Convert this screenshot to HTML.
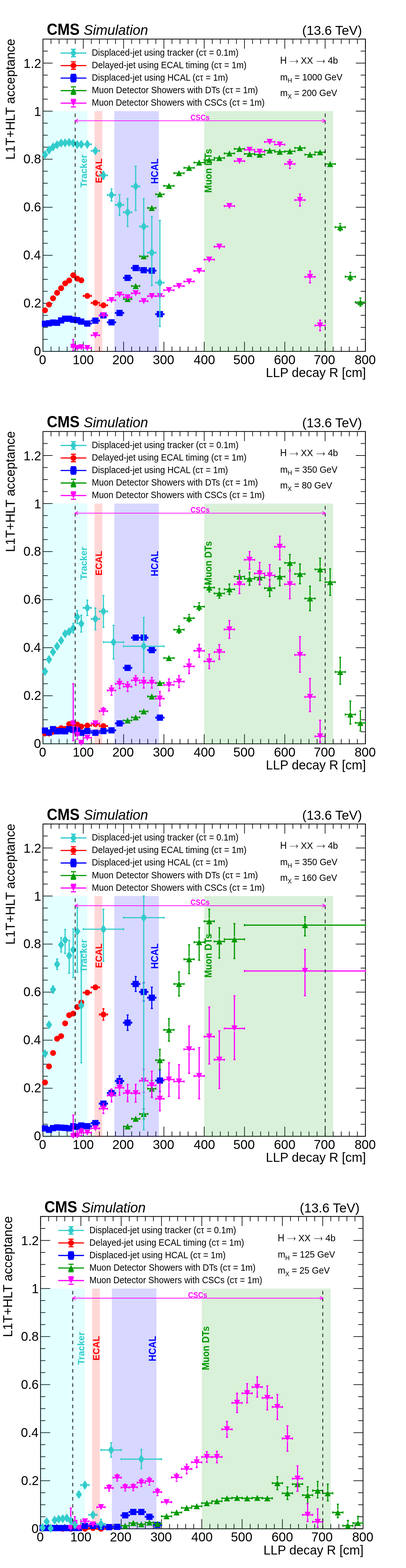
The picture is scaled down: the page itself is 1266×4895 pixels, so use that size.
<!DOCTYPE html>
<html><head><meta charset="utf-8"><title>L1T+HLT acceptance</title>
<style>html,body{margin:0;padding:0;background:#fff;}svg{display:block;}text{font-family:"Liberation Sans",Arial,Helvetica,sans-serif;}</style></head><body>
<svg width="1266" height="4895" viewBox="0 0 1266 4895">
<rect width="1266" height="4895" fill="#fff"/>
<g>
<path d="M134.0 1097.0V1067.0M134.0 122.0V152.0M159.1 1097.0V1082.0M159.1 122.0V137.0M184.3 1097.0V1082.0M184.3 122.0V137.0M209.4 1097.0V1082.0M209.4 122.0V137.0M234.6 1097.0V1082.0M234.6 122.0V137.0M259.7 1097.0V1067.0M259.7 122.0V152.0M284.8 1097.0V1082.0M284.8 122.0V137.0M310.0 1097.0V1082.0M310.0 122.0V137.0M335.1 1097.0V1082.0M335.1 122.0V137.0M360.2 1097.0V1082.0M360.2 122.0V137.0M385.4 1097.0V1067.0M385.4 122.0V152.0M410.5 1097.0V1082.0M410.5 122.0V137.0M435.6 1097.0V1082.0M435.6 122.0V137.0M460.8 1097.0V1082.0M460.8 122.0V137.0M485.9 1097.0V1082.0M485.9 122.0V137.0M511.1 1097.0V1067.0M511.1 122.0V152.0M536.2 1097.0V1082.0M536.2 122.0V137.0M561.3 1097.0V1082.0M561.3 122.0V137.0M586.5 1097.0V1082.0M586.5 122.0V137.0M611.6 1097.0V1082.0M611.6 122.0V137.0M636.8 1097.0V1067.0M636.8 122.0V152.0M661.9 1097.0V1082.0M661.9 122.0V137.0M687.0 1097.0V1082.0M687.0 122.0V137.0M712.2 1097.0V1082.0M712.2 122.0V137.0M737.3 1097.0V1082.0M737.3 122.0V137.0M762.4 1097.0V1067.0M762.4 122.0V152.0M787.6 1097.0V1082.0M787.6 122.0V137.0M812.7 1097.0V1082.0M812.7 122.0V137.0M837.9 1097.0V1082.0M837.9 122.0V137.0M863.0 1097.0V1082.0M863.0 122.0V137.0M888.1 1097.0V1067.0M888.1 122.0V152.0M913.3 1097.0V1082.0M913.3 122.0V137.0M938.4 1097.0V1082.0M938.4 122.0V137.0M963.5 1097.0V1082.0M963.5 122.0V137.0M988.7 1097.0V1082.0M988.7 122.0V137.0M1013.8 1097.0V1067.0M1013.8 122.0V152.0M1038.9 1097.0V1082.0M1038.9 122.0V137.0M1064.1 1097.0V1082.0M1064.1 122.0V137.0M1089.2 1097.0V1082.0M1089.2 122.0V137.0M1114.4 1097.0V1082.0M1114.4 122.0V137.0M1139.5 1097.0V1067.0M1139.5 122.0V152.0M134.0 1097.0H164.0M1139.5 1097.0H1109.5M134.0 1059.5H149.0M1139.5 1059.5H1124.5M134.0 1022.0H149.0M1139.5 1022.0H1124.5M134.0 984.5H149.0M1139.5 984.5H1124.5M134.0 947.0H164.0M1139.5 947.0H1109.5M134.0 909.5H149.0M1139.5 909.5H1124.5M134.0 872.0H149.0M1139.5 872.0H1124.5M134.0 834.5H149.0M1139.5 834.5H1124.5M134.0 797.0H164.0M1139.5 797.0H1109.5M134.0 759.5H149.0M1139.5 759.5H1124.5M134.0 722.0H149.0M1139.5 722.0H1124.5M134.0 684.5H149.0M1139.5 684.5H1124.5M134.0 647.0H164.0M1139.5 647.0H1109.5M134.0 609.5H149.0M1139.5 609.5H1124.5M134.0 572.0H149.0M1139.5 572.0H1124.5M134.0 534.5H149.0M1139.5 534.5H1124.5M134.0 497.0H164.0M1139.5 497.0H1109.5M134.0 459.5H149.0M1139.5 459.5H1124.5M134.0 422.0H149.0M1139.5 422.0H1124.5M134.0 384.5H149.0M1139.5 384.5H1124.5M134.0 347.0H164.0M1139.5 347.0H1109.5M134.0 309.5H149.0M1139.5 309.5H1124.5M134.0 272.0H149.0M1139.5 272.0H1124.5M134.0 234.5H149.0M1139.5 234.5H1124.5M134.0 197.0H164.0M1139.5 197.0H1109.5M134.0 159.5H149.0M1139.5 159.5H1124.5M134.0 122.0H149.0M1139.5 122.0H1124.5" stroke="#000" stroke-width="2" fill="none"/>
<rect x="134.0" y="122.0" width="1005.5" height="975.0" fill="none" stroke="#000" stroke-width="2.4"/>
<rect x="134.0" y="347.0" width="138.1" height="751.5" fill="#00ffff" fill-opacity="0.110"/>
<rect x="294.8" y="347.0" width="24.1" height="751.5" fill="#ff0000" fill-opacity="0.155"/>
<rect x="356.4" y="347.0" width="139.1" height="751.5" fill="#0000ff" fill-opacity="0.155"/>
<rect x="637.0" y="347.0" width="401.7" height="751.5" fill="#009900" fill-opacity="0.150"/>
<text transform="translate(270.61 585.19) rotate(-90) scale(0.2892 0.2946)" font-size="100" font-weight="bold" fill="#33cccc">Tracker</text>
<text transform="translate(317.81 571.78) rotate(-90) scale(0.2828 0.2944)" font-size="100" font-weight="bold" fill="#ff0000">ECAL</text>
<text transform="translate(493.49 574.10) rotate(-90) scale(0.2858 0.3070)" font-size="100" font-weight="bold" fill="#0000ff">HCAL</text>
<text transform="translate(659.59 601.92) rotate(-90) scale(0.2890 0.3057)" font-size="100" font-weight="bold" fill="#009900">Muon DTs</text>
<path d="M134.0 968.8H135.8M144.8 968.8H146.6M146.6 950.8H148.4M157.4 950.8H159.1M159.1 931.2H160.9M169.9 931.2H171.7M171.7 914.0H173.5M182.5 914.0H184.3M184.3 899.8H186.1M195.1 899.8H196.8M196.8 884.8H198.6M207.6 884.8H209.4M209.4 875.8H211.2M220.2 875.8H222.0M222.0 859.2H223.8M232.8 859.2H234.6M234.6 869.8H236.3M245.3 869.8H247.1M247.1 875.0H248.9M257.9 875.0H259.7M259.7 923.8H267.8M276.8 923.8H284.8M284.8 945.5H292.9M301.9 945.5H310.0M310.0 953.0H318.0M327.0 953.0H335.1" stroke="#ff0000" stroke-width="3.6" fill="none"/>
<path d="M134.0 965.5V972.0M146.6 965.5V972.0M146.6 947.5V954.0M159.1 947.5V954.0M159.1 928.0V934.5M171.7 928.0V934.5M171.7 910.7V917.3M184.3 910.7V917.3M184.3 896.5V903.0M196.8 896.5V903.0M196.8 881.5V888.0M209.4 881.5V888.0M209.4 872.5V879.0M222.0 872.5V879.0M222.0 856.0V862.5M234.6 856.0V862.5M234.6 866.5V873.0M247.1 866.5V873.0M247.1 871.7V878.3M259.7 871.7V878.3M259.7 920.5V927.0M284.8 920.5V927.0M284.8 942.2V948.8M310.0 942.2V948.8M310.0 949.7V956.3M335.1 949.7V956.3" stroke="#ff0000" stroke-width="3.5" fill="none"/>
<circle cx="140.3" cy="968.8" r="9.2" fill="#ff0000"/><circle cx="152.9" cy="950.8" r="9.2" fill="#ff0000"/><circle cx="165.4" cy="931.2" r="9.2" fill="#ff0000"/><circle cx="178.0" cy="914.0" r="9.2" fill="#ff0000"/><circle cx="190.6" cy="899.8" r="9.2" fill="#ff0000"/><circle cx="203.1" cy="884.8" r="9.2" fill="#ff0000"/><circle cx="215.7" cy="875.8" r="9.2" fill="#ff0000"/><circle cx="228.3" cy="859.2" r="9.2" fill="#ff0000"/><circle cx="240.8" cy="869.8" r="9.2" fill="#ff0000"/><circle cx="253.4" cy="875.0" r="9.2" fill="#ff0000"/><circle cx="272.3" cy="923.8" r="9.2" fill="#ff0000"/><circle cx="297.4" cy="945.5" r="9.2" fill="#ff0000"/><circle cx="322.5" cy="953.0" r="9.2" fill="#ff0000"/>
<path d="M134.0 1010.8H135.8M144.8 1010.8H146.6M146.6 1009.2H148.4M157.4 1009.2H159.1M159.1 1007.0H160.9M169.9 1007.0H171.7M171.7 1007.8H173.5M182.5 1007.8H184.3M184.3 1000.2H186.1M195.1 1000.2H196.8M196.8 995.0H198.6M207.6 995.0H209.4M209.4 995.0H211.2M220.2 995.0H222.0M222.0 998.0H223.8M232.8 998.0H234.6M234.6 999.5H236.3M245.3 999.5H247.1M247.1 1004.0H248.9M257.9 1004.0H259.7M259.7 1010.0H267.8M276.8 1010.0H284.8M284.8 1001.0H292.9M301.9 1001.0H310.0M310.0 984.5H318.0M327.0 984.5H335.1M335.1 1006.2H343.2M352.2 1006.2H360.2M360.2 977.0H368.3M377.3 977.0H385.4M385.4 867.5H393.4M402.4 867.5H410.5M410.5 836.8H418.6M427.6 836.8H435.6M435.6 843.5H443.7M452.7 843.5H460.8M460.8 845.0H468.9M477.9 845.0H485.9M485.9 980.8H494.0M503.0 980.8H511.1" stroke="#0000ff" stroke-width="3.6" fill="none"/>
<path d="M134.0 1007.5V1014.0M146.6 1007.5V1014.0M146.6 1006.0V1012.5M159.1 1006.0V1012.5M159.1 1003.7V1010.3M171.7 1003.7V1010.3M171.7 1004.5V1011.0M184.3 1004.5V1011.0M184.3 997.0V1003.5M196.8 997.0V1003.5M196.8 991.7V998.3M209.4 991.7V998.3M209.4 991.7V998.3M222.0 991.7V998.3M222.0 994.7V1001.3M234.6 994.7V1001.3M234.6 996.2V1002.8M247.1 996.2V1002.8M247.1 1000.7V1007.3M259.7 1000.7V1007.3M259.7 1006.7V1013.3M284.8 1006.7V1013.3M284.8 997.7V1004.3M310.0 997.7V1004.3M310.0 981.2V987.8M335.1 981.2V987.8M335.1 1003.0V1009.5M360.2 1003.0V1009.5M360.2 973.7V980.3M385.4 973.7V980.3M385.4 864.2V870.8M410.5 864.2V870.8M410.5 833.5V840.0M435.6 833.5V840.0M435.6 840.2V846.8M460.8 840.2V846.8M460.8 841.7V848.3M485.9 841.7V848.3M485.9 977.5V984.0M511.1 977.5V984.0" stroke="#0000ff" stroke-width="3.5" fill="none"/>
<rect x="130.6" y="1001.0" width="19.4" height="19.4" fill="#0000ff"/><rect x="143.2" y="999.5" width="19.4" height="19.4" fill="#0000ff"/><rect x="155.7" y="997.3" width="19.4" height="19.4" fill="#0000ff"/><rect x="168.3" y="998.0" width="19.4" height="19.4" fill="#0000ff"/><rect x="180.9" y="990.5" width="19.4" height="19.4" fill="#0000ff"/><rect x="193.4" y="985.3" width="19.4" height="19.4" fill="#0000ff"/><rect x="206.0" y="985.3" width="19.4" height="19.4" fill="#0000ff"/><rect x="218.6" y="988.3" width="19.4" height="19.4" fill="#0000ff"/><rect x="231.1" y="989.8" width="19.4" height="19.4" fill="#0000ff"/><rect x="243.7" y="994.3" width="19.4" height="19.4" fill="#0000ff"/><rect x="262.6" y="1000.3" width="19.4" height="19.4" fill="#0000ff"/><rect x="287.7" y="991.3" width="19.4" height="19.4" fill="#0000ff"/><rect x="312.8" y="974.8" width="19.4" height="19.4" fill="#0000ff"/><rect x="338.0" y="996.5" width="19.4" height="19.4" fill="#0000ff"/><rect x="363.1" y="967.3" width="19.4" height="19.4" fill="#0000ff"/><rect x="388.2" y="857.8" width="19.4" height="19.4" fill="#0000ff"/><rect x="413.4" y="827.0" width="19.4" height="19.4" fill="#0000ff"/><rect x="438.5" y="833.8" width="19.4" height="19.4" fill="#0000ff"/><rect x="463.7" y="835.3" width="19.4" height="19.4" fill="#0000ff"/><rect x="488.8" y="971.0" width="19.4" height="19.4" fill="#0000ff"/>
<path d="M385.4 933.5H393.4M402.4 933.5H410.5M410.5 893.0H418.6M427.6 893.0H435.6M435.6 800.0H443.7M452.7 800.0H460.8M460.8 649.2H468.9M477.9 649.2H485.9M485.9 606.5H494.0M503.0 606.5H511.1M511.1 580.2H522.3M531.3 580.2H542.5M542.5 540.5H553.7M562.7 540.5H573.9M573.9 524.0H585.1M594.1 524.0H605.3M605.3 507.5H616.5M625.5 507.5H636.8M636.8 499.2H648.0M657.0 499.2H668.2M668.2 493.2H679.4M688.4 493.2H699.6M699.6 479.0H710.8M719.8 479.0H731.0M731.0 464.8H742.2M751.2 464.8H762.4M762.4 480.5H773.6M782.6 480.5H793.9M793.9 482.8H805.1M814.1 482.8H825.3M825.3 470.0H836.5M845.5 470.0H856.7M856.7 473.8H867.9M876.9 473.8H888.1M888.1 472.2H899.3M908.3 472.2H919.5M919.5 461.8H930.8M939.8 461.8H951.0M951.0 482.8H962.2M971.2 482.8H982.4M982.4 475.2H993.6M1002.6 475.2H1013.8M1013.8 512.0H1025.0M1034.0 512.0H1045.2M1045.2 709.2H1056.4M1065.4 709.2H1076.7M1060.9 698.0V700.0M1060.9 718.5V720.5M1076.7 863.8H1087.9M1096.9 863.8H1108.1M1092.4 850.2V854.5M1092.4 873.0V875.8M1108.1 943.2H1119.3M1128.3 943.2H1139.5M1123.8 930.5V934.0M1123.8 952.5V956.0" stroke="#009900" stroke-width="3.6" fill="none"/>
<path d="M385.4 930.2V936.8M410.5 930.2V936.8M410.5 889.7V896.3M435.6 889.7V896.3M435.6 796.7V803.3M460.8 796.7V803.3M460.8 646.0V652.5M485.9 646.0V652.5M485.9 603.2V609.8M511.1 603.2V609.8M511.1 577.0V583.5M542.5 577.0V583.5M542.5 537.2V543.8M573.9 537.2V543.8M573.9 520.7V527.3M605.3 520.7V527.3M605.3 504.2V510.8M636.8 504.2V510.8M636.8 495.9V502.6M668.2 495.9V502.6M668.2 489.9V496.6M699.6 489.9V496.6M699.6 475.7V482.3M731.0 475.7V482.3M731.0 461.4V468.1M762.4 461.4V468.1M762.4 477.2V483.8M793.9 477.2V483.8M793.9 479.4V486.1M825.3 479.4V486.1M825.3 466.7V473.3M856.7 466.7V473.3M856.7 470.4V477.1M888.1 470.4V477.1M888.1 468.9V475.6M919.5 468.9V475.6M919.5 458.4V465.1M951.0 458.4V465.1M951.0 479.4V486.1M982.4 479.4V486.1M982.4 471.9V478.6M1013.8 471.9V478.6M1013.8 508.7V515.3M1045.2 508.7V515.3M1045.2 706.0V712.5M1076.7 706.0V712.5M1057.6 698.0H1064.2M1057.6 720.5H1064.2M1076.7 860.5V867.0M1108.1 860.5V867.0M1089.1 850.2H1095.7M1089.1 875.8H1095.7M1108.1 940.0V946.5M1139.5 940.0V946.5M1120.5 930.5H1127.1M1120.5 956.0H1127.1" stroke="#009900" stroke-width="3.5" fill="none"/>
<polygon points="388.4,943.0 407.4,943.0 397.9,924.0" fill="#009900"/><polygon points="413.6,902.5 432.6,902.5 423.1,883.5" fill="#009900"/><polygon points="438.7,809.5 457.7,809.5 448.2,790.5" fill="#009900"/><polygon points="463.9,658.8 482.9,658.8 473.4,639.8" fill="#009900"/><polygon points="489.0,616.0 508.0,616.0 498.5,597.0" fill="#009900"/><polygon points="517.3,589.8 536.3,589.8 526.8,570.8" fill="#009900"/><polygon points="548.7,550.0 567.7,550.0 558.2,531.0" fill="#009900"/><polygon points="580.1,533.5 599.1,533.5 589.6,514.5" fill="#009900"/><polygon points="611.5,517.0 630.5,517.0 621.0,498.0" fill="#009900"/><polygon points="643.0,508.8 662.0,508.8 652.5,489.8" fill="#009900"/><polygon points="674.4,502.8 693.4,502.8 683.9,483.8" fill="#009900"/><polygon points="705.8,488.5 724.8,488.5 715.3,469.5" fill="#009900"/><polygon points="737.2,474.2 756.2,474.2 746.7,455.2" fill="#009900"/><polygon points="768.6,490.0 787.6,490.0 778.1,471.0" fill="#009900"/><polygon points="800.1,492.2 819.1,492.2 809.6,473.2" fill="#009900"/><polygon points="831.5,479.5 850.5,479.5 841.0,460.5" fill="#009900"/><polygon points="862.9,483.2 881.9,483.2 872.4,464.2" fill="#009900"/><polygon points="894.3,481.8 913.3,481.8 903.8,462.8" fill="#009900"/><polygon points="925.8,471.2 944.8,471.2 935.3,452.2" fill="#009900"/><polygon points="957.2,492.2 976.2,492.2 966.7,473.2" fill="#009900"/><polygon points="988.6,484.8 1007.6,484.8 998.1,465.8" fill="#009900"/><polygon points="1020.0,521.5 1039.0,521.5 1029.5,502.5" fill="#009900"/><polygon points="1051.4,718.8 1070.4,718.8 1060.9,699.8" fill="#009900"/><polygon points="1082.9,873.2 1101.9,873.2 1092.4,854.2" fill="#009900"/><polygon points="1114.3,952.8 1133.3,952.8 1123.8,933.8" fill="#009900"/>
<path d="M222.0 1082.8H223.8M232.8 1082.8H234.6M228.3 1059.5V1073.5M228.3 1092.0V1094.0M234.6 1086.5H236.3M245.3 1086.5H247.1M247.1 1084.2H248.9M257.9 1084.2H259.7M259.7 1086.5H267.8M276.8 1086.5H284.8M284.8 1046.8H292.9M301.9 1046.8H310.0M310.0 984.5H318.0M327.0 984.5H335.1M335.1 937.2H343.2M352.2 937.2H360.2M360.2 920.0H368.3M377.3 920.0H385.4M385.4 928.2H393.4M402.4 928.2H410.5M410.5 915.5H418.6M427.6 915.5H435.6M435.6 940.2H443.7M452.7 940.2H460.8M460.8 924.5H468.9M477.9 924.5H485.9M485.9 924.5H494.0M503.0 924.5H511.1M511.1 905.8H522.3M531.3 905.8H542.5M542.5 893.0H553.7M562.7 893.0H573.9M573.9 878.8H585.1M594.1 878.8H605.3M605.3 845.8H616.5M625.5 845.8H636.8M636.8 810.5H648.0M657.0 810.5H668.2M668.2 770.0H679.4M688.4 770.0H699.6M699.6 643.2H710.8M719.8 643.2H731.0M731.0 503.0H742.2M751.2 503.0H762.4M762.4 467.8H773.6M782.6 467.8H793.9M793.9 473.8H805.1M814.1 473.8H825.3M825.3 443.0H836.5M845.5 443.0H856.7M856.7 451.2H867.9M876.9 451.2H888.1M888.1 512.0H899.3M908.3 512.0H919.5M903.8 498.5V502.7M903.8 521.3V525.5M919.5 624.5H930.8M939.8 624.5H951.0M935.3 605.8V615.2M935.3 633.8V643.2M951.0 864.5H962.2M971.2 864.5H982.4M966.7 845.8V855.2M966.7 873.8V883.2M982.4 1016.0H993.6M1002.6 1016.0H1013.8M998.1 999.5V1006.7M998.1 1025.3V1032.5" stroke="#ff00ff" stroke-width="3.6" fill="none"/>
<path d="M222.0 1079.5V1086.0M234.6 1079.5V1086.0M225.0 1059.5H231.6M225.0 1094.0H231.6M234.6 1083.2V1089.8M247.1 1083.2V1089.8M247.1 1081.0V1087.5M259.7 1081.0V1087.5M259.7 1083.2V1089.8M284.8 1083.2V1089.8M284.8 1043.5V1050.0M310.0 1043.5V1050.0M310.0 981.2V987.8M335.1 981.2V987.8M335.1 934.0V940.5M360.2 934.0V940.5M360.2 916.7V923.3M385.4 916.7V923.3M385.4 925.0V931.5M410.5 925.0V931.5M410.5 912.2V918.8M435.6 912.2V918.8M435.6 937.0V943.5M460.8 937.0V943.5M460.8 921.2V927.8M485.9 921.2V927.8M485.9 921.2V927.8M511.1 921.2V927.8M511.1 902.5V909.0M542.5 902.5V909.0M542.5 889.7V896.3M573.9 889.7V896.3M573.9 875.5V882.0M605.3 875.5V882.0M605.3 842.5V849.0M636.8 842.5V849.0M636.8 807.2V813.8M668.2 807.2V813.8M668.2 766.7V773.3M699.6 766.7V773.3M699.6 640.0V646.5M731.0 640.0V646.5M731.0 499.7V506.3M762.4 499.7V506.3M762.4 464.4V471.1M793.9 464.4V471.1M793.9 470.4V477.1M825.3 470.4V477.1M825.3 439.7V446.3M856.7 439.7V446.3M856.7 447.9V454.6M888.1 447.9V454.6M888.1 508.7V515.3M919.5 508.7V515.3M900.5 498.5H907.1M900.5 525.5H907.1M919.5 621.2V627.8M951.0 621.2V627.8M932.0 605.8H938.6M932.0 643.2H938.6M951.0 861.2V867.8M982.4 861.2V867.8M963.4 845.8H970.0M963.4 883.2H970.0M982.4 1012.7V1019.3M1013.8 1012.7V1019.3M994.8 999.5H1001.4M994.8 1032.5H1001.4" stroke="#ff00ff" stroke-width="3.5" fill="none"/>
<polygon points="218.8,1073.2 237.8,1073.2 228.3,1092.2" fill="#ff00ff"/><polygon points="231.3,1077.0 250.3,1077.0 240.8,1096.0" fill="#ff00ff"/><polygon points="243.9,1074.8 262.9,1074.8 253.4,1093.8" fill="#ff00ff"/><polygon points="262.8,1077.0 281.8,1077.0 272.3,1096.0" fill="#ff00ff"/><polygon points="287.9,1037.2 306.9,1037.2 297.4,1056.2" fill="#ff00ff"/><polygon points="313.0,975.0 332.0,975.0 322.5,994.0" fill="#ff00ff"/><polygon points="338.2,927.8 357.2,927.8 347.7,946.8" fill="#ff00ff"/><polygon points="363.3,910.5 382.3,910.5 372.8,929.5" fill="#ff00ff"/><polygon points="388.4,918.8 407.4,918.8 397.9,937.8" fill="#ff00ff"/><polygon points="413.6,906.0 432.6,906.0 423.1,925.0" fill="#ff00ff"/><polygon points="438.7,930.8 457.7,930.8 448.2,949.8" fill="#ff00ff"/><polygon points="463.9,915.0 482.9,915.0 473.4,934.0" fill="#ff00ff"/><polygon points="489.0,915.0 508.0,915.0 498.5,934.0" fill="#ff00ff"/><polygon points="517.3,896.2 536.3,896.2 526.8,915.2" fill="#ff00ff"/><polygon points="548.7,883.5 567.7,883.5 558.2,902.5" fill="#ff00ff"/><polygon points="580.1,869.2 599.1,869.2 589.6,888.2" fill="#ff00ff"/><polygon points="611.5,836.2 630.5,836.2 621.0,855.2" fill="#ff00ff"/><polygon points="643.0,801.0 662.0,801.0 652.5,820.0" fill="#ff00ff"/><polygon points="674.4,760.5 693.4,760.5 683.9,779.5" fill="#ff00ff"/><polygon points="705.8,633.8 724.8,633.8 715.3,652.8" fill="#ff00ff"/><polygon points="737.2,493.5 756.2,493.5 746.7,512.5" fill="#ff00ff"/><polygon points="768.6,458.2 787.6,458.2 778.1,477.2" fill="#ff00ff"/><polygon points="800.1,464.2 819.1,464.2 809.6,483.2" fill="#ff00ff"/><polygon points="831.5,433.5 850.5,433.5 841.0,452.5" fill="#ff00ff"/><polygon points="862.9,441.8 881.9,441.8 872.4,460.8" fill="#ff00ff"/><polygon points="894.3,502.5 913.3,502.5 903.8,521.5" fill="#ff00ff"/><polygon points="925.8,615.0 944.8,615.0 935.3,634.0" fill="#ff00ff"/><polygon points="957.2,855.0 976.2,855.0 966.7,874.0" fill="#ff00ff"/><polygon points="988.6,1006.5 1007.6,1006.5 998.1,1025.5" fill="#ff00ff"/>
<path d="M134.0 482.8H135.8M144.8 482.8H146.6M146.6 468.5H148.4M157.4 468.5H159.1M159.1 458.8H160.9M169.9 458.8H171.7M171.7 452.0H173.5M182.5 452.0H184.3M184.3 446.8H186.1M195.1 446.8H196.8M196.8 446.0H198.6M207.6 446.0H209.4M209.4 444.5H211.2M220.2 444.5H222.0M222.0 446.8H223.8M232.8 446.8H234.6M234.6 451.2H236.3M245.3 451.2H247.1M247.1 450.5H248.9M257.9 450.5H259.7M259.7 450.5H267.8M276.8 450.5H284.8M284.8 470.8H292.9M301.9 470.8H310.0M310.0 547.2H318.0M327.0 547.2H335.1M322.5 535.2V538.0M322.5 556.5V559.2M335.1 608.8H343.2M352.2 608.8H360.2M347.7 590.0V599.5M347.7 618.0V627.5M360.2 639.5H368.3M377.3 639.5H385.4M372.8 607.2V630.2M372.8 648.8V672.5M385.4 662.8H393.4M402.4 662.8H410.5M397.9 620.0V653.5M397.9 672.0V707.0M410.5 581.8H418.6M427.6 581.8H435.6M423.1 518.8V572.5M423.1 591.0V656.8M435.6 707.0H443.7M452.7 707.0H460.8M448.2 620.0V697.7M448.2 716.3V798.5M460.8 788.8H468.9M477.9 788.8H485.9M473.4 676.2V779.5M473.4 798.0V891.5M485.9 882.5H494.0M503.0 882.5H511.1M498.5 688.2V873.2M498.5 891.8V1019.0" stroke="#33cccc" stroke-width="3.6" fill="none"/>
<path d="M134.0 479.4V486.1M146.6 479.4V486.1M146.6 465.2V471.8M159.1 465.2V471.8M159.1 455.4V462.1M171.7 455.4V462.1M171.7 448.7V455.3M184.3 448.7V455.3M184.3 443.4V450.1M196.8 443.4V450.1M196.8 442.7V449.3M209.4 442.7V449.3M209.4 441.2V447.8M222.0 441.2V447.8M222.0 443.4V450.1M234.6 443.4V450.1M234.6 447.9V454.6M247.1 447.9V454.6M247.1 447.2V453.8M259.7 447.2V453.8M259.7 447.2V453.8M284.8 447.2V453.8M284.8 467.4V474.1M310.0 467.4V474.1M310.0 544.0V550.5M335.1 544.0V550.5M319.2 535.2H325.8M319.2 559.2H325.8M335.1 605.5V612.0M360.2 605.5V612.0M344.4 590.0H351.0M344.4 627.5H351.0M360.2 636.2V642.8M385.4 636.2V642.8M369.5 607.2H376.1M369.5 672.5H376.1M385.4 659.5V666.0M410.5 659.5V666.0M394.6 620.0H401.2M394.6 707.0H401.2M410.5 578.5V585.0M435.6 578.5V585.0M419.8 518.8H426.4M419.8 656.8H426.4M435.6 703.7V710.3M460.8 703.7V710.3M444.9 620.0H451.5M444.9 798.5H451.5M460.8 785.5V792.0M485.9 785.5V792.0M470.1 676.2H476.7M470.1 891.5H476.7M485.9 879.2V885.8M511.1 879.2V885.8M495.2 688.2H501.8M495.2 1019.0H501.8" stroke="#33cccc" stroke-width="3.5" fill="none"/>
<polygon points="130.7,482.8 140.3,468.6 149.9,482.8 140.3,496.9" fill="#33cccc"/><polygon points="143.3,468.5 152.9,454.3 162.5,468.5 152.9,482.7" fill="#33cccc"/><polygon points="155.8,458.8 165.4,444.6 175.0,458.8 165.4,472.9" fill="#33cccc"/><polygon points="168.4,452.0 178.0,437.8 187.6,452.0 178.0,466.2" fill="#33cccc"/><polygon points="181.0,446.8 190.6,432.6 200.2,446.8 190.6,460.9" fill="#33cccc"/><polygon points="193.5,446.0 203.1,431.8 212.7,446.0 203.1,460.2" fill="#33cccc"/><polygon points="206.1,444.5 215.7,430.3 225.3,444.5 215.7,458.7" fill="#33cccc"/><polygon points="218.7,446.8 228.3,432.6 237.9,446.8 228.3,460.9" fill="#33cccc"/><polygon points="231.2,451.2 240.8,437.1 250.4,451.2 240.8,465.4" fill="#33cccc"/><polygon points="243.8,450.5 253.4,436.3 263.0,450.5 253.4,464.7" fill="#33cccc"/><polygon points="262.7,450.5 272.3,436.3 281.9,450.5 272.3,464.7" fill="#33cccc"/><polygon points="287.8,470.8 297.4,456.6 307.0,470.8 297.4,484.9" fill="#33cccc"/><polygon points="312.9,547.2 322.5,533.0 332.1,547.2 322.5,561.5" fill="#33cccc"/><polygon points="338.1,608.8 347.7,594.5 357.3,608.8 347.7,623.0" fill="#33cccc"/><polygon points="363.2,639.5 372.8,625.3 382.4,639.5 372.8,653.7" fill="#33cccc"/><polygon points="388.3,662.8 397.9,648.5 407.5,662.8 397.9,677.0" fill="#33cccc"/><polygon points="413.5,581.8 423.1,567.5 432.7,581.8 423.1,596.0" fill="#33cccc"/><polygon points="438.6,707.0 448.2,692.8 457.8,707.0 448.2,721.2" fill="#33cccc"/><polygon points="463.8,788.8 473.4,774.5 483.0,788.8 473.4,803.0" fill="#33cccc"/><polygon points="488.9,882.5 498.5,868.3 508.1,882.5 498.5,896.7" fill="#33cccc"/>
<line x1="234.4" y1="347.0" x2="234.4" y2="1097.0" stroke="#000" stroke-width="2.2" stroke-dasharray="11 11.18" stroke-dashoffset="-7.50"/>
<line x1="1014.0" y1="347.0" x2="1014.0" y2="1097.0" stroke="#000" stroke-width="2.2" stroke-dasharray="11 11.18" stroke-dashoffset="-7.50"/>
<g stroke="#ff00ff" stroke-width="2.2" fill="none">
<line x1="233.5" y1="377.0" x2="1015.0" y2="377.0"/>
<polyline points="243.5,371.7 233.5,377.0 243.5,382.3"/>
<polyline points="1005.0,371.7 1015.0,377.0 1005.0,382.3"/>
</g>
<text transform="translate(594.11 375.16) scale(0.2236 0.2394)" font-size="100" font-weight="bold" fill="#ff00ff">CSCs</text>
<text transform="translate(105.86 1110.09) scale(0.3969 0.4085)" font-size="100">0</text>
<text transform="translate(73.31 960.09) scale(0.3969 0.4085)" font-size="100">0.2</text>
<text transform="translate(72.52 810.09) scale(0.3969 0.4085)" font-size="100">0.4</text>
<text transform="translate(72.91 660.09) scale(0.3969 0.4085)" font-size="100">0.6</text>
<text transform="translate(72.91 510.09) scale(0.3969 0.4085)" font-size="100">0.8</text>
<text transform="translate(106.26 361.89) scale(0.3969 0.4085)" font-size="100">1</text>
<text transform="translate(73.31 211.89) scale(0.3969 0.4085)" font-size="100">1.2</text>
<text transform="translate(122.02 1136.79) scale(0.3938 0.4056)" font-size="100">0</text>
<text transform="translate(226.65 1136.79) scale(0.3942 0.4056)" font-size="100">100</text>
<text transform="translate(350.19 1136.79) scale(0.4025 0.4056)" font-size="100">200</text>
<text transform="translate(476.40 1136.79) scale(0.4006 0.4056)" font-size="100">300</text>
<text transform="translate(604.00 1136.79) scale(0.3994 0.4056)" font-size="100">400</text>
<text transform="translate(727.60 1136.79) scale(0.4006 0.4056)" font-size="100">500</text>
<text transform="translate(854.19 1136.79) scale(0.4019 0.4056)" font-size="100">600</text>
<text transform="translate(978.20 1136.79) scale(0.4006 0.4056)" font-size="100">700</text>
<text transform="translate(1105.82 1136.79) scale(0.3956 0.4056)" font-size="100">800</text>
<text transform="translate(829.03 1176.90) scale(0.3962 0.4145)" font-size="100">LLP decay R [cm]</text>
<text transform="translate(45.90 498.58) rotate(-90) scale(0.3977 0.4145)" font-size="100">L1T+HLT acceptance</text>
<text transform="translate(145.96 109.31) scale(0.4603 0.4915)" font-size="100" font-weight="bold">CMS</text>
<text transform="translate(261.11 109.16) scale(0.4294 0.4378)" font-size="100" font-style="italic">Simulation</text>
<text transform="translate(942.37 108.92) scale(0.4058 0.3989)" font-size="100">(13.6 TeV)</text>
<path d="M189.0 165.6H269.5" stroke="#33cccc" stroke-width="3.6"/>
<path d="M229.0 153.9V156.3M229.0 174.9V177.3" stroke="#33cccc" stroke-width="3.6"/>
<path d="M221.0 153.9H237.0M221.0 177.3H237.0" stroke="#33cccc" stroke-width="3.6"/>
<polygon points="219.4,165.6 229.0,151.4 238.6,165.6 229.0,179.8" fill="#33cccc"/>
<text transform="translate(286.25 173.90) scale(0.2694 0.2870)" font-size="100">Displaced-jet using tracker (cτ = 0.1m)</text>
<path d="M189.0 204.7H269.5" stroke="#ff0000" stroke-width="3.6"/>
<path d="M229.0 193.0V195.4M229.0 214.0V216.4" stroke="#ff0000" stroke-width="3.6"/>
<path d="M221.0 193.0H237.0M221.0 216.4H237.0" stroke="#ff0000" stroke-width="3.6"/>
<circle cx="229.0" cy="204.7" r="9.2" fill="#ff0000"/>
<text transform="translate(286.24 213.00) scale(0.2698 0.2870)" font-size="100">Delayed-jet using ECAL timing (cτ = 1m)</text>
<path d="M189.0 243.8H269.5" stroke="#0000ff" stroke-width="3.6"/>
<path d="M229.0 232.1V234.5M229.0 253.1V255.5" stroke="#0000ff" stroke-width="3.6"/>
<path d="M221.0 232.1H237.0M221.0 255.5H237.0" stroke="#0000ff" stroke-width="3.6"/>
<rect x="219.3" y="234.1" width="19.4" height="19.4" fill="#0000ff"/>
<text transform="translate(286.24 252.10) scale(0.2703 0.2870)" font-size="100">Displaced-jet using HCAL (cτ = 1m)</text>
<path d="M189.0 282.9H269.5" stroke="#009900" stroke-width="3.6"/>
<path d="M229.0 271.2V273.6M229.0 292.2V294.6" stroke="#009900" stroke-width="3.6"/>
<path d="M221.0 271.2H237.0M221.0 294.6H237.0" stroke="#009900" stroke-width="3.6"/>
<polygon points="219.5,292.4 238.5,292.4 229.0,273.4" fill="#009900"/>
<text transform="translate(286.23 291.20) scale(0.2707 0.2870)" font-size="100">Muon Detector Showers with DTs (cτ = 1m)</text>
<path d="M189.0 322.0H269.5" stroke="#ff00ff" stroke-width="3.6"/>
<path d="M229.0 310.3V312.7M229.0 331.3V333.7" stroke="#ff00ff" stroke-width="3.6"/>
<path d="M221.0 310.3H237.0M221.0 333.7H237.0" stroke="#ff00ff" stroke-width="3.6"/>
<polygon points="219.5,312.5 238.5,312.5 229.0,331.5" fill="#ff00ff"/>
<text transform="translate(286.25 330.30) scale(0.2691 0.2870)" font-size="100">Muon Detector Showers with CSCs (cτ = 1m)</text>
<text transform="translate(873.60 199.20) scale(0.2875 0.3043)" font-size="100">H</text>
<text transform="translate(902.64 207.77) scale(0.2822 0.4667)" font-size="100" style="font-family:NanumGothic">→</text>
<text transform="translate(937.94 199.30) scale(0.2852 0.3029)" font-size="100">XX</text>
<text transform="translate(986.64 207.83) scale(0.2800 0.4700)" font-size="100" style="font-family:NanumGothic">→</text>
<text transform="translate(1022.13 199.30) scale(0.2848 0.2932)" font-size="100">4b</text>
<text transform="translate(873.85 250.51) scale(0.2787 0.2888)" font-size="100">m<tspan font-size="68" dy="27.5">H</tspan><tspan dy="-27.5"> = 1000 GeV</tspan></text>
<text transform="translate(873.75 300.01) scale(0.2787 0.2888)" font-size="100">m<tspan font-size="68" dy="27.5">X</tspan><tspan dy="-27.5"> = 200 GeV</tspan></text>
</g>
<g>
<path d="M134.0 2322.0V2292.0M134.0 1347.0V1377.0M159.1 2322.0V2307.0M159.1 1347.0V1362.0M184.3 2322.0V2307.0M184.3 1347.0V1362.0M209.4 2322.0V2307.0M209.4 1347.0V1362.0M234.6 2322.0V2307.0M234.6 1347.0V1362.0M259.7 2322.0V2292.0M259.7 1347.0V1377.0M284.8 2322.0V2307.0M284.8 1347.0V1362.0M310.0 2322.0V2307.0M310.0 1347.0V1362.0M335.1 2322.0V2307.0M335.1 1347.0V1362.0M360.2 2322.0V2307.0M360.2 1347.0V1362.0M385.4 2322.0V2292.0M385.4 1347.0V1377.0M410.5 2322.0V2307.0M410.5 1347.0V1362.0M435.6 2322.0V2307.0M435.6 1347.0V1362.0M460.8 2322.0V2307.0M460.8 1347.0V1362.0M485.9 2322.0V2307.0M485.9 1347.0V1362.0M511.1 2322.0V2292.0M511.1 1347.0V1377.0M536.2 2322.0V2307.0M536.2 1347.0V1362.0M561.3 2322.0V2307.0M561.3 1347.0V1362.0M586.5 2322.0V2307.0M586.5 1347.0V1362.0M611.6 2322.0V2307.0M611.6 1347.0V1362.0M636.8 2322.0V2292.0M636.8 1347.0V1377.0M661.9 2322.0V2307.0M661.9 1347.0V1362.0M687.0 2322.0V2307.0M687.0 1347.0V1362.0M712.2 2322.0V2307.0M712.2 1347.0V1362.0M737.3 2322.0V2307.0M737.3 1347.0V1362.0M762.4 2322.0V2292.0M762.4 1347.0V1377.0M787.6 2322.0V2307.0M787.6 1347.0V1362.0M812.7 2322.0V2307.0M812.7 1347.0V1362.0M837.9 2322.0V2307.0M837.9 1347.0V1362.0M863.0 2322.0V2307.0M863.0 1347.0V1362.0M888.1 2322.0V2292.0M888.1 1347.0V1377.0M913.3 2322.0V2307.0M913.3 1347.0V1362.0M938.4 2322.0V2307.0M938.4 1347.0V1362.0M963.5 2322.0V2307.0M963.5 1347.0V1362.0M988.7 2322.0V2307.0M988.7 1347.0V1362.0M1013.8 2322.0V2292.0M1013.8 1347.0V1377.0M1038.9 2322.0V2307.0M1038.9 1347.0V1362.0M1064.1 2322.0V2307.0M1064.1 1347.0V1362.0M1089.2 2322.0V2307.0M1089.2 1347.0V1362.0M1114.4 2322.0V2307.0M1114.4 1347.0V1362.0M1139.5 2322.0V2292.0M1139.5 1347.0V1377.0M134.0 2322.0H164.0M1139.5 2322.0H1109.5M134.0 2284.5H149.0M1139.5 2284.5H1124.5M134.0 2247.0H149.0M1139.5 2247.0H1124.5M134.0 2209.5H149.0M1139.5 2209.5H1124.5M134.0 2172.0H164.0M1139.5 2172.0H1109.5M134.0 2134.5H149.0M1139.5 2134.5H1124.5M134.0 2097.0H149.0M1139.5 2097.0H1124.5M134.0 2059.5H149.0M1139.5 2059.5H1124.5M134.0 2022.0H164.0M1139.5 2022.0H1109.5M134.0 1984.5H149.0M1139.5 1984.5H1124.5M134.0 1947.0H149.0M1139.5 1947.0H1124.5M134.0 1909.5H149.0M1139.5 1909.5H1124.5M134.0 1872.0H164.0M1139.5 1872.0H1109.5M134.0 1834.5H149.0M1139.5 1834.5H1124.5M134.0 1797.0H149.0M1139.5 1797.0H1124.5M134.0 1759.5H149.0M1139.5 1759.5H1124.5M134.0 1722.0H164.0M1139.5 1722.0H1109.5M134.0 1684.5H149.0M1139.5 1684.5H1124.5M134.0 1647.0H149.0M1139.5 1647.0H1124.5M134.0 1609.5H149.0M1139.5 1609.5H1124.5M134.0 1572.0H164.0M1139.5 1572.0H1109.5M134.0 1534.5H149.0M1139.5 1534.5H1124.5M134.0 1497.0H149.0M1139.5 1497.0H1124.5M134.0 1459.5H149.0M1139.5 1459.5H1124.5M134.0 1422.0H164.0M1139.5 1422.0H1109.5M134.0 1384.5H149.0M1139.5 1384.5H1124.5M134.0 1347.0H149.0M1139.5 1347.0H1124.5" stroke="#000" stroke-width="2" fill="none"/>
<rect x="134.0" y="1347.0" width="1005.5" height="975.0" fill="none" stroke="#000" stroke-width="2.4"/>
<rect x="134.0" y="1572.0" width="138.1" height="751.5" fill="#00ffff" fill-opacity="0.110"/>
<rect x="294.8" y="1572.0" width="24.1" height="751.5" fill="#ff0000" fill-opacity="0.155"/>
<rect x="356.4" y="1572.0" width="139.1" height="751.5" fill="#0000ff" fill-opacity="0.155"/>
<rect x="637.0" y="1572.0" width="401.7" height="751.5" fill="#009900" fill-opacity="0.150"/>
<text transform="translate(270.61 1810.19) rotate(-90) scale(0.2892 0.2946)" font-size="100" font-weight="bold" fill="#33cccc">Tracker</text>
<text transform="translate(317.81 1796.78) rotate(-90) scale(0.2828 0.2944)" font-size="100" font-weight="bold" fill="#ff0000">ECAL</text>
<text transform="translate(493.49 1799.10) rotate(-90) scale(0.2858 0.3070)" font-size="100" font-weight="bold" fill="#0000ff">HCAL</text>
<text transform="translate(659.59 1826.92) rotate(-90) scale(0.2890 0.3057)" font-size="100" font-weight="bold" fill="#009900">Muon DTs</text>
<path d="M134.0 2289.8H135.8M144.8 2289.8H146.6M146.6 2289.8H148.4M157.4 2289.8H159.1M159.1 2284.5H160.9M169.9 2284.5H171.7M171.7 2278.5H173.5M182.5 2278.5H184.3M184.3 2273.2H186.1M195.1 2273.2H196.8M196.8 2275.5H198.6M207.6 2275.5H209.4M209.4 2260.5H211.2M220.2 2260.5H222.0M222.0 2258.2H223.8M232.8 2258.2H234.6M234.6 2262.0H236.3M245.3 2262.0H247.1M247.1 2268.0H248.9M257.9 2268.0H259.7M259.7 2265.0H267.8M276.8 2265.0H284.8M284.8 2260.5H292.9M301.9 2260.5H310.0M310.0 2266.5H318.0M327.0 2266.5H335.1" stroke="#ff0000" stroke-width="3.6" fill="none"/>
<path d="M134.0 2286.4V2293.1M146.6 2286.4V2293.1M146.6 2286.4V2293.1M159.1 2286.4V2293.1M159.1 2281.2V2287.8M171.7 2281.2V2287.8M171.7 2275.2V2281.8M184.3 2275.2V2281.8M184.3 2269.9V2276.6M196.8 2269.9V2276.6M196.8 2272.2V2278.8M209.4 2272.2V2278.8M209.4 2257.2V2263.8M222.0 2257.2V2263.8M222.0 2254.9V2261.6M234.6 2254.9V2261.6M234.6 2258.7V2265.3M247.1 2258.7V2265.3M247.1 2264.7V2271.3M259.7 2264.7V2271.3M259.7 2261.7V2268.3M284.8 2261.7V2268.3M284.8 2257.2V2263.8M310.0 2257.2V2263.8M310.0 2263.2V2269.8M335.1 2263.2V2269.8" stroke="#ff0000" stroke-width="3.5" fill="none"/>
<circle cx="140.3" cy="2289.8" r="9.2" fill="#ff0000"/><circle cx="152.9" cy="2289.8" r="9.2" fill="#ff0000"/><circle cx="165.4" cy="2284.5" r="9.2" fill="#ff0000"/><circle cx="178.0" cy="2278.5" r="9.2" fill="#ff0000"/><circle cx="190.6" cy="2273.2" r="9.2" fill="#ff0000"/><circle cx="203.1" cy="2275.5" r="9.2" fill="#ff0000"/><circle cx="215.7" cy="2260.5" r="9.2" fill="#ff0000"/><circle cx="228.3" cy="2258.2" r="9.2" fill="#ff0000"/><circle cx="240.8" cy="2262.0" r="9.2" fill="#ff0000"/><circle cx="253.4" cy="2268.0" r="9.2" fill="#ff0000"/><circle cx="272.3" cy="2265.0" r="9.2" fill="#ff0000"/><circle cx="297.4" cy="2260.5" r="9.2" fill="#ff0000"/><circle cx="322.5" cy="2266.5" r="9.2" fill="#ff0000"/>
<path d="M134.0 2280.8H135.8M144.8 2280.8H146.6M146.6 2286.8H148.4M157.4 2286.8H159.1M159.1 2276.2H160.9M169.9 2276.2H171.7M171.7 2283.0H173.5M182.5 2283.0H184.3M184.3 2282.2H186.1M195.1 2282.2H196.8M196.8 2283.0H198.6M207.6 2283.0H209.4M209.4 2276.2H211.2M220.2 2276.2H222.0M222.0 2278.5H223.8M232.8 2278.5H234.6M234.6 2280.8H236.3M245.3 2280.8H247.1M247.1 2287.5H248.9M257.9 2287.5H259.7M259.7 2282.2H267.8M276.8 2282.2H284.8M284.8 2287.5H292.9M301.9 2287.5H310.0M310.0 2282.2H318.0M327.0 2282.2H335.1M335.1 2280.0H343.2M352.2 2280.0H360.2M360.2 2258.2H368.3M377.3 2258.2H385.4M385.4 2085.0H393.4M402.4 2085.0H410.5M410.5 1990.5H418.6M427.6 1990.5H435.6M435.6 1990.5H443.7M452.7 1990.5H460.8M460.8 2029.5H468.9M477.9 2029.5H485.9M485.9 2240.2H494.0M503.0 2240.2H511.1" stroke="#0000ff" stroke-width="3.6" fill="none"/>
<path d="M134.0 2277.4V2284.1M146.6 2277.4V2284.1M146.6 2283.4V2290.1M159.1 2283.4V2290.1M159.1 2272.9V2279.6M171.7 2272.9V2279.6M171.7 2279.7V2286.3M184.3 2279.7V2286.3M184.3 2278.9V2285.6M196.8 2278.9V2285.6M196.8 2279.7V2286.3M209.4 2279.7V2286.3M209.4 2272.9V2279.6M222.0 2272.9V2279.6M222.0 2275.2V2281.8M234.6 2275.2V2281.8M234.6 2277.4V2284.1M247.1 2277.4V2284.1M247.1 2284.2V2290.8M259.7 2284.2V2290.8M259.7 2278.9V2285.6M284.8 2278.9V2285.6M284.8 2284.2V2290.8M310.0 2284.2V2290.8M310.0 2278.9V2285.6M335.1 2278.9V2285.6M335.1 2276.7V2283.3M360.2 2276.7V2283.3M360.2 2254.9V2261.6M385.4 2254.9V2261.6M385.4 2081.7V2088.3M410.5 2081.7V2088.3M410.5 1987.2V1993.8M435.6 1987.2V1993.8M435.6 1987.2V1993.8M460.8 1987.2V1993.8M460.8 2026.2V2032.8M485.9 2026.2V2032.8M485.9 2236.9V2243.6M511.1 2236.9V2243.6" stroke="#0000ff" stroke-width="3.5" fill="none"/>
<rect x="130.6" y="2271.1" width="19.4" height="19.4" fill="#0000ff"/><rect x="143.2" y="2277.1" width="19.4" height="19.4" fill="#0000ff"/><rect x="155.7" y="2266.6" width="19.4" height="19.4" fill="#0000ff"/><rect x="168.3" y="2273.3" width="19.4" height="19.4" fill="#0000ff"/><rect x="180.9" y="2272.6" width="19.4" height="19.4" fill="#0000ff"/><rect x="193.4" y="2273.3" width="19.4" height="19.4" fill="#0000ff"/><rect x="206.0" y="2266.6" width="19.4" height="19.4" fill="#0000ff"/><rect x="218.6" y="2268.8" width="19.4" height="19.4" fill="#0000ff"/><rect x="231.1" y="2271.1" width="19.4" height="19.4" fill="#0000ff"/><rect x="243.7" y="2277.8" width="19.4" height="19.4" fill="#0000ff"/><rect x="262.6" y="2272.6" width="19.4" height="19.4" fill="#0000ff"/><rect x="287.7" y="2277.8" width="19.4" height="19.4" fill="#0000ff"/><rect x="312.8" y="2272.6" width="19.4" height="19.4" fill="#0000ff"/><rect x="338.0" y="2270.3" width="19.4" height="19.4" fill="#0000ff"/><rect x="363.1" y="2248.6" width="19.4" height="19.4" fill="#0000ff"/><rect x="388.2" y="2075.3" width="19.4" height="19.4" fill="#0000ff"/><rect x="413.4" y="1980.8" width="19.4" height="19.4" fill="#0000ff"/><rect x="438.5" y="1980.8" width="19.4" height="19.4" fill="#0000ff"/><rect x="463.7" y="2019.8" width="19.4" height="19.4" fill="#0000ff"/><rect x="488.8" y="2230.6" width="19.4" height="19.4" fill="#0000ff"/>
<path d="M385.4 2249.2H393.4M402.4 2249.2H410.5M410.5 2239.5H418.6M427.6 2239.5H435.6M435.6 2220.8H443.7M452.7 2220.8H460.8M460.8 2174.2H468.9M477.9 2174.2H485.9M485.9 2132.2H494.0M503.0 2132.2H511.1M511.1 2054.2H522.3M531.3 2054.2H542.5M542.5 1965.8H553.7M562.7 1965.8H573.9M558.2 1954.5V1956.5M558.2 1975.0V1977.0M573.9 1929.8H585.1M594.1 1929.8H605.3M589.6 1918.5V1920.5M589.6 1939.0V1941.0M605.3 1893.8H616.5M625.5 1893.8H636.8M621.0 1881.8V1884.5M621.0 1903.0V1905.8M636.8 1834.5H648.0M657.0 1834.5H668.2M652.5 1821.0V1825.2M652.5 1843.8V1848.0M668.2 1852.5H679.4M688.4 1852.5H699.6M683.9 1837.5V1843.2M683.9 1861.8V1867.5M699.6 1839.8H710.8M719.8 1839.8H731.0M715.3 1823.2V1830.5M715.3 1849.0V1856.2M731.0 1800.0H742.2M751.2 1800.0H762.4M746.7 1781.2V1790.7M746.7 1809.3V1818.8M762.4 1806.8H773.6M782.6 1806.8H793.9M778.1 1786.5V1797.5M778.1 1816.0V1827.0M793.9 1803.0H805.1M814.1 1803.0H825.3M809.6 1780.5V1793.7M809.6 1812.3V1825.5M825.3 1836.0H836.5M845.5 1836.0H856.7M841.0 1809.8V1826.7M841.0 1845.3V1862.2M856.7 1800.0H867.9M876.9 1800.0H888.1M872.4 1773.0V1790.7M872.4 1809.3V1828.5M888.1 1757.2H899.3M908.3 1757.2H919.5M903.8 1731.0V1748.0M903.8 1766.5V1783.5M919.5 1791.8H930.8M939.8 1791.8H951.0M935.3 1761.0V1782.5M935.3 1801.0V1822.5M951.0 1868.2H962.2M971.2 1868.2H982.4M966.7 1830.0V1859.0M966.7 1877.5V1906.5M982.4 1777.5H993.6M1002.6 1777.5H1013.8M998.1 1742.2V1768.2M998.1 1786.8V1812.8M1013.8 1817.2H1025.0M1034.0 1817.2H1045.2M1029.5 1776.0V1808.0M1029.5 1826.5V1858.5M1045.2 2097.8H1056.4M1065.4 2097.8H1076.7M1060.9 2052.0V2088.4M1060.9 2107.1V2136.0M1076.7 2230.5H1087.9M1096.9 2230.5H1108.1M1092.4 2188.5V2221.2M1092.4 2239.8V2260.5M1108.1 2256.8H1119.3M1128.3 2256.8H1139.5M1123.8 2219.2V2247.4M1123.8 2266.1V2281.5" stroke="#009900" stroke-width="3.6" fill="none"/>
<path d="M385.4 2245.9V2252.6M410.5 2245.9V2252.6M410.5 2236.2V2242.8M435.6 2236.2V2242.8M435.6 2217.4V2224.1M460.8 2217.4V2224.1M460.8 2170.9V2177.6M485.9 2170.9V2177.6M485.9 2128.9V2135.6M511.1 2128.9V2135.6M511.1 2050.9V2057.6M542.5 2050.9V2057.6M542.5 1962.5V1969.0M573.9 1962.5V1969.0M554.9 1954.5H561.5M554.9 1977.0H561.5M573.9 1926.5V1933.0M605.3 1926.5V1933.0M586.3 1918.5H592.9M586.3 1941.0H592.9M605.3 1890.5V1897.0M636.8 1890.5V1897.0M617.7 1881.8H624.3M617.7 1905.8H624.3M636.8 1831.2V1837.8M668.2 1831.2V1837.8M649.2 1821.0H655.8M649.2 1848.0H655.8M668.2 1849.2V1855.8M699.6 1849.2V1855.8M680.6 1837.5H687.2M680.6 1867.5H687.2M699.6 1836.5V1843.0M731.0 1836.5V1843.0M712.0 1823.2H718.6M712.0 1856.2H718.6M731.0 1796.7V1803.3M762.4 1796.7V1803.3M743.4 1781.2H750.0M743.4 1818.8H750.0M762.4 1803.5V1810.0M793.9 1803.5V1810.0M774.8 1786.5H781.4M774.8 1827.0H781.4M793.9 1799.7V1806.3M825.3 1799.7V1806.3M806.3 1780.5H812.9M806.3 1825.5H812.9M825.3 1832.7V1839.3M856.7 1832.7V1839.3M837.7 1809.8H844.3M837.7 1862.2H844.3M856.7 1796.7V1803.3M888.1 1796.7V1803.3M869.1 1773.0H875.7M869.1 1828.5H875.7M888.1 1754.0V1760.5M919.5 1754.0V1760.5M900.5 1731.0H907.1M900.5 1783.5H907.1M919.5 1788.5V1795.0M951.0 1788.5V1795.0M932.0 1761.0H938.6M932.0 1822.5H938.6M951.0 1865.0V1871.5M982.4 1865.0V1871.5M963.4 1830.0H970.0M963.4 1906.5H970.0M982.4 1774.2V1780.8M1013.8 1774.2V1780.8M994.8 1742.2H1001.4M994.8 1812.8H1001.4M1013.8 1814.0V1820.5M1045.2 1814.0V1820.5M1026.2 1776.0H1032.8M1026.2 1858.5H1032.8M1045.2 2094.4V2101.1M1076.7 2094.4V2101.1M1057.6 2052.0H1064.2M1057.6 2136.0H1064.2M1076.7 2227.2V2233.8M1108.1 2227.2V2233.8M1089.1 2188.5H1095.7M1089.1 2260.5H1095.7M1108.1 2253.4V2260.1M1139.5 2253.4V2260.1M1120.5 2219.2H1127.1M1120.5 2281.5H1127.1" stroke="#009900" stroke-width="3.5" fill="none"/>
<polygon points="388.4,2258.8 407.4,2258.8 397.9,2239.8" fill="#009900"/><polygon points="413.6,2249.0 432.6,2249.0 423.1,2230.0" fill="#009900"/><polygon points="438.7,2230.2 457.7,2230.2 448.2,2211.2" fill="#009900"/><polygon points="463.9,2183.8 482.9,2183.8 473.4,2164.8" fill="#009900"/><polygon points="489.0,2141.8 508.0,2141.8 498.5,2122.8" fill="#009900"/><polygon points="517.3,2063.8 536.3,2063.8 526.8,2044.8" fill="#009900"/><polygon points="548.7,1975.2 567.7,1975.2 558.2,1956.2" fill="#009900"/><polygon points="580.1,1939.2 599.1,1939.2 589.6,1920.2" fill="#009900"/><polygon points="611.5,1903.2 630.5,1903.2 621.0,1884.2" fill="#009900"/><polygon points="643.0,1844.0 662.0,1844.0 652.5,1825.0" fill="#009900"/><polygon points="674.4,1862.0 693.4,1862.0 683.9,1843.0" fill="#009900"/><polygon points="705.8,1849.2 724.8,1849.2 715.3,1830.2" fill="#009900"/><polygon points="737.2,1809.5 756.2,1809.5 746.7,1790.5" fill="#009900"/><polygon points="768.6,1816.2 787.6,1816.2 778.1,1797.2" fill="#009900"/><polygon points="800.1,1812.5 819.1,1812.5 809.6,1793.5" fill="#009900"/><polygon points="831.5,1845.5 850.5,1845.5 841.0,1826.5" fill="#009900"/><polygon points="862.9,1809.5 881.9,1809.5 872.4,1790.5" fill="#009900"/><polygon points="894.3,1766.8 913.3,1766.8 903.8,1747.8" fill="#009900"/><polygon points="925.8,1801.2 944.8,1801.2 935.3,1782.2" fill="#009900"/><polygon points="957.2,1877.8 976.2,1877.8 966.7,1858.8" fill="#009900"/><polygon points="988.6,1787.0 1007.6,1787.0 998.1,1768.0" fill="#009900"/><polygon points="1020.0,1826.8 1039.0,1826.8 1029.5,1807.8" fill="#009900"/><polygon points="1051.4,2107.2 1070.4,2107.2 1060.9,2088.2" fill="#009900"/><polygon points="1082.9,2240.0 1101.9,2240.0 1092.4,2221.0" fill="#009900"/><polygon points="1114.3,2266.2 1133.3,2266.2 1123.8,2247.2" fill="#009900"/>
<path d="M222.0 2258.2H223.8M232.8 2258.2H234.6M228.3 2134.5V2248.9M228.3 2267.6V2312.2M234.6 2294.2H236.3M245.3 2294.2H247.1M240.8 2269.5V2284.9M240.8 2303.6V2307.8M247.1 2319.0H248.9M257.9 2319.0H259.7M259.7 2303.2H267.8M276.8 2303.2H284.8M284.8 2258.2H292.9M301.9 2258.2H310.0M310.0 2220.0H318.0M327.0 2220.0H335.1M322.5 2208.8V2210.7M322.5 2229.3V2231.2M335.1 2155.5H343.2M352.2 2155.5H360.2M347.7 2140.5V2146.2M347.7 2164.8V2170.5M360.2 2134.5H368.3M377.3 2134.5H385.4M372.8 2119.5V2125.2M372.8 2143.8V2149.5M385.4 2143.5H393.4M402.4 2143.5H410.5M397.9 2128.5V2134.2M397.9 2152.8V2158.5M410.5 2124.0H418.6M427.6 2124.0H435.6M423.1 2109.0V2114.7M423.1 2133.3V2139.0M435.6 2131.5H443.7M452.7 2131.5H460.8M448.2 2115.0V2122.2M448.2 2140.8V2148.0M460.8 2131.5H468.9M477.9 2131.5H485.9M473.4 2115.0V2122.2M473.4 2140.8V2148.0M485.9 2181.0H494.0M503.0 2181.0H511.1M498.5 2158.5V2171.7M498.5 2190.3V2203.5M511.1 2138.2H522.3M531.3 2138.2H542.5M526.8 2119.5V2128.9M526.8 2147.6V2157.0M542.5 2127.8H553.7M562.7 2127.8H573.9M558.2 2109.0V2118.4M558.2 2137.1V2146.5M573.9 2080.5H585.1M594.1 2080.5H605.3M589.6 2058.0V2071.2M589.6 2089.8V2103.0M605.3 2031.8H616.5M625.5 2031.8H636.8M621.0 2011.5V2022.5M621.0 2041.0V2052.0M636.8 2064.8H648.0M657.0 2064.8H668.2M652.5 2042.2V2055.4M652.5 2074.1V2087.2M668.2 2035.5H679.4M688.4 2035.5H699.6M683.9 2012.2V2026.2M683.9 2044.8V2058.8M699.6 1965.0H710.8M719.8 1965.0H731.0M715.3 1937.2V1955.7M715.3 1974.3V1992.8M731.0 1824.0H742.2M751.2 1824.0H762.4M746.7 1794.8V1814.7M746.7 1833.3V1853.2M762.4 1747.5H773.6M782.6 1747.5H793.9M778.1 1722.0V1738.2M778.1 1756.8V1776.8M793.9 1790.2H805.1M814.1 1790.2H825.3M809.6 1755.8V1781.0M809.6 1799.5V1824.8M825.3 1796.2H836.5M845.5 1796.2H856.7M841.0 1762.5V1787.0M841.0 1805.5V1830.0M856.7 1707.0H867.9M876.9 1707.0H888.1M872.4 1674.0V1697.7M872.4 1716.3V1747.5M888.1 1824.0H899.3M908.3 1824.0H919.5M903.8 1779.0V1814.7M903.8 1833.3V1869.0M919.5 2044.5H930.8M939.8 2044.5H951.0M935.3 1987.5V2035.2M935.3 2053.8V2098.5M951.0 2175.8H962.2M971.2 2175.8H982.4M966.7 2118.0V2166.4M966.7 2185.1V2221.5M982.4 2298.8H993.6M1002.6 2298.8H1013.8M998.1 2248.5V2289.4M998.1 2308.1V2318.2" stroke="#ff00ff" stroke-width="3.6" fill="none"/>
<path d="M222.0 2254.9V2261.6M234.6 2254.9V2261.6M225.0 2134.5H231.6M225.0 2312.2H231.6M234.6 2290.9V2297.6M247.1 2290.9V2297.6M237.5 2269.5H244.1M237.5 2307.8H244.1M247.1 2315.7V2322.3M259.7 2315.7V2322.3M259.7 2299.9V2306.6M284.8 2299.9V2306.6M284.8 2254.9V2261.6M310.0 2254.9V2261.6M310.0 2216.7V2223.3M335.1 2216.7V2223.3M319.2 2208.8H325.8M319.2 2231.2H325.8M335.1 2152.2V2158.8M360.2 2152.2V2158.8M344.4 2140.5H351.0M344.4 2170.5H351.0M360.2 2131.2V2137.8M385.4 2131.2V2137.8M369.5 2119.5H376.1M369.5 2149.5H376.1M385.4 2140.2V2146.8M410.5 2140.2V2146.8M394.6 2128.5H401.2M394.6 2158.5H401.2M410.5 2120.7V2127.3M435.6 2120.7V2127.3M419.8 2109.0H426.4M419.8 2139.0H426.4M435.6 2128.2V2134.8M460.8 2128.2V2134.8M444.9 2115.0H451.5M444.9 2148.0H451.5M460.8 2128.2V2134.8M485.9 2128.2V2134.8M470.1 2115.0H476.7M470.1 2148.0H476.7M485.9 2177.7V2184.3M511.1 2177.7V2184.3M495.2 2158.5H501.8M495.2 2203.5H501.8M511.1 2134.9V2141.6M542.5 2134.9V2141.6M523.5 2119.5H530.1M523.5 2157.0H530.1M542.5 2124.4V2131.1M573.9 2124.4V2131.1M554.9 2109.0H561.5M554.9 2146.5H561.5M573.9 2077.2V2083.8M605.3 2077.2V2083.8M586.3 2058.0H592.9M586.3 2103.0H592.9M605.3 2028.5V2035.0M636.8 2028.5V2035.0M617.7 2011.5H624.3M617.7 2052.0H624.3M636.8 2061.4V2068.1M668.2 2061.4V2068.1M649.2 2042.2H655.8M649.2 2087.2H655.8M668.2 2032.2V2038.8M699.6 2032.2V2038.8M680.6 2012.2H687.2M680.6 2058.8H687.2M699.6 1961.7V1968.3M731.0 1961.7V1968.3M712.0 1937.2H718.6M712.0 1992.8H718.6M731.0 1820.7V1827.3M762.4 1820.7V1827.3M743.4 1794.8H750.0M743.4 1853.2H750.0M762.4 1744.2V1750.8M793.9 1744.2V1750.8M774.8 1722.0H781.4M774.8 1776.8H781.4M793.9 1787.0V1793.5M825.3 1787.0V1793.5M806.3 1755.8H812.9M806.3 1824.8H812.9M825.3 1793.0V1799.5M856.7 1793.0V1799.5M837.7 1762.5H844.3M837.7 1830.0H844.3M856.7 1703.7V1710.3M888.1 1703.7V1710.3M869.1 1674.0H875.7M869.1 1747.5H875.7M888.1 1820.7V1827.3M919.5 1820.7V1827.3M900.5 1779.0H907.1M900.5 1869.0H907.1M919.5 2041.2V2047.8M951.0 2041.2V2047.8M932.0 1987.5H938.6M932.0 2098.5H938.6M951.0 2172.4V2179.1M982.4 2172.4V2179.1M963.4 2118.0H970.0M963.4 2221.5H970.0M982.4 2295.4V2302.1M1013.8 2295.4V2302.1M994.8 2248.5H1001.4M994.8 2318.2H1001.4" stroke="#ff00ff" stroke-width="3.5" fill="none"/>
<polygon points="218.8,2248.8 237.8,2248.8 228.3,2267.8" fill="#ff00ff"/><polygon points="231.3,2284.8 250.3,2284.8 240.8,2303.8" fill="#ff00ff"/><polygon points="243.9,2309.5 262.9,2309.5 253.4,2328.5" fill="#ff00ff"/><polygon points="262.8,2293.8 281.8,2293.8 272.3,2312.8" fill="#ff00ff"/><polygon points="287.9,2248.8 306.9,2248.8 297.4,2267.8" fill="#ff00ff"/><polygon points="313.0,2210.5 332.0,2210.5 322.5,2229.5" fill="#ff00ff"/><polygon points="338.2,2146.0 357.2,2146.0 347.7,2165.0" fill="#ff00ff"/><polygon points="363.3,2125.0 382.3,2125.0 372.8,2144.0" fill="#ff00ff"/><polygon points="388.4,2134.0 407.4,2134.0 397.9,2153.0" fill="#ff00ff"/><polygon points="413.6,2114.5 432.6,2114.5 423.1,2133.5" fill="#ff00ff"/><polygon points="438.7,2122.0 457.7,2122.0 448.2,2141.0" fill="#ff00ff"/><polygon points="463.9,2122.0 482.9,2122.0 473.4,2141.0" fill="#ff00ff"/><polygon points="489.0,2171.5 508.0,2171.5 498.5,2190.5" fill="#ff00ff"/><polygon points="517.3,2128.8 536.3,2128.8 526.8,2147.8" fill="#ff00ff"/><polygon points="548.7,2118.2 567.7,2118.2 558.2,2137.2" fill="#ff00ff"/><polygon points="580.1,2071.0 599.1,2071.0 589.6,2090.0" fill="#ff00ff"/><polygon points="611.5,2022.2 630.5,2022.2 621.0,2041.2" fill="#ff00ff"/><polygon points="643.0,2055.2 662.0,2055.2 652.5,2074.2" fill="#ff00ff"/><polygon points="674.4,2026.0 693.4,2026.0 683.9,2045.0" fill="#ff00ff"/><polygon points="705.8,1955.5 724.8,1955.5 715.3,1974.5" fill="#ff00ff"/><polygon points="737.2,1814.5 756.2,1814.5 746.7,1833.5" fill="#ff00ff"/><polygon points="768.6,1738.0 787.6,1738.0 778.1,1757.0" fill="#ff00ff"/><polygon points="800.1,1780.8 819.1,1780.8 809.6,1799.8" fill="#ff00ff"/><polygon points="831.5,1786.8 850.5,1786.8 841.0,1805.8" fill="#ff00ff"/><polygon points="862.9,1697.5 881.9,1697.5 872.4,1716.5" fill="#ff00ff"/><polygon points="894.3,1814.5 913.3,1814.5 903.8,1833.5" fill="#ff00ff"/><polygon points="925.8,2035.0 944.8,2035.0 935.3,2054.0" fill="#ff00ff"/><polygon points="957.2,2166.2 976.2,2166.2 966.7,2185.2" fill="#ff00ff"/><polygon points="988.6,2289.2 1007.6,2289.2 998.1,2308.2" fill="#ff00ff"/>
<path d="M134.0 2096.2H135.8M144.8 2096.2H146.6M146.6 2058.8H148.4M157.4 2058.8H159.1M159.1 2035.5H160.9M169.9 2035.5H171.7M171.7 2017.5H173.5M182.5 2017.5H184.3M184.3 1999.5H186.1M195.1 1999.5H196.8M196.8 1978.5H198.6M207.6 1978.5H209.4M209.4 1971.8H211.2M220.2 1971.8H222.0M222.0 1961.2H223.8M232.8 1961.2H234.6M228.3 1946.2V1952.0M228.3 1970.5V1976.2M234.6 1926.0H236.3M245.3 1926.0H247.1M240.8 1905.8V1916.7M240.8 1935.3V1946.2M247.1 1947.0H248.9M257.9 1947.0H259.7M253.4 1920.8V1937.7M253.4 1956.3V1973.2M259.7 1897.5H267.8M276.8 1897.5H284.8M272.3 1873.5V1888.2M272.3 1906.8V1921.5M284.8 1932.0H292.9M301.9 1932.0H310.0M297.4 1898.2V1922.7M297.4 1941.3V1965.8M310.0 1908.8H318.0M327.0 1908.8H335.1M322.5 1859.2V1899.5M322.5 1918.0V1958.2M322.5 2004.8H349.5M358.5 2004.8H385.4M354.0 1952.2V1995.5M354.0 2014.0V2057.2M385.4 2017.5H443.7M452.7 2017.5H511.1M448.2 1927.5V2008.2M448.2 2026.8V2098.5" stroke="#33cccc" stroke-width="3.6" fill="none"/>
<path d="M134.0 2092.9V2099.6M146.6 2092.9V2099.6M146.6 2055.4V2062.1M159.1 2055.4V2062.1M159.1 2032.2V2038.8M171.7 2032.2V2038.8M171.7 2014.2V2020.8M184.3 2014.2V2020.8M184.3 1996.2V2002.8M196.8 1996.2V2002.8M196.8 1975.2V1981.8M209.4 1975.2V1981.8M209.4 1968.5V1975.0M222.0 1968.5V1975.0M222.0 1958.0V1964.5M234.6 1958.0V1964.5M225.0 1946.2H231.6M225.0 1976.2H231.6M234.6 1922.7V1929.3M247.1 1922.7V1929.3M237.5 1905.8H244.1M237.5 1946.2H244.1M247.1 1943.7V1950.3M259.7 1943.7V1950.3M250.1 1920.8H256.7M250.1 1973.2H256.7M259.7 1894.2V1900.8M284.8 1894.2V1900.8M269.0 1873.5H275.6M269.0 1921.5H275.6M284.8 1928.7V1935.3M310.0 1928.7V1935.3M294.1 1898.2H300.7M294.1 1965.8H300.7M310.0 1905.5V1912.0M335.1 1905.5V1912.0M319.2 1859.2H325.8M319.2 1958.2H325.8M322.5 2001.5V2008.0M385.4 2001.5V2008.0M350.7 1952.2H357.3M350.7 2057.2H357.3M385.4 2014.2V2020.8M511.1 2014.2V2020.8M444.9 1927.5H451.5M444.9 2098.5H451.5" stroke="#33cccc" stroke-width="3.5" fill="none"/>
<polygon points="130.7,2096.2 140.3,2082.1 149.9,2096.2 140.3,2110.4" fill="#33cccc"/><polygon points="143.3,2058.8 152.9,2044.5 162.5,2058.8 152.9,2072.9" fill="#33cccc"/><polygon points="155.8,2035.5 165.4,2021.3 175.0,2035.5 165.4,2049.7" fill="#33cccc"/><polygon points="168.4,2017.5 178.0,2003.3 187.6,2017.5 178.0,2031.7" fill="#33cccc"/><polygon points="181.0,1999.5 190.6,1985.3 200.2,1999.5 190.6,2013.7" fill="#33cccc"/><polygon points="193.5,1978.5 203.1,1964.3 212.7,1978.5 203.1,1992.7" fill="#33cccc"/><polygon points="206.1,1971.8 215.7,1957.5 225.3,1971.8 215.7,1986.0" fill="#33cccc"/><polygon points="218.7,1961.2 228.3,1947.0 237.9,1961.2 228.3,1975.5" fill="#33cccc"/><polygon points="231.2,1926.0 240.8,1911.8 250.4,1926.0 240.8,1940.2" fill="#33cccc"/><polygon points="243.8,1947.0 253.4,1932.8 263.0,1947.0 253.4,1961.2" fill="#33cccc"/><polygon points="262.7,1897.5 272.3,1883.3 281.9,1897.5 272.3,1911.7" fill="#33cccc"/><polygon points="287.8,1932.0 297.4,1917.8 307.0,1932.0 297.4,1946.2" fill="#33cccc"/><polygon points="312.9,1908.8 322.5,1894.5 332.1,1908.8 322.5,1923.0" fill="#33cccc"/><polygon points="344.4,2004.8 354.0,1990.5 363.6,2004.8 354.0,2019.0" fill="#33cccc"/><polygon points="438.6,2017.5 448.2,2003.3 457.8,2017.5 448.2,2031.7" fill="#33cccc"/>
<line x1="234.4" y1="1572.0" x2="234.4" y2="2322.0" stroke="#000" stroke-width="2.2" stroke-dasharray="11 11.18" stroke-dashoffset="-7.50"/>
<line x1="1014.0" y1="1572.0" x2="1014.0" y2="2322.0" stroke="#000" stroke-width="2.2" stroke-dasharray="11 11.18" stroke-dashoffset="-7.50"/>
<g stroke="#ff00ff" stroke-width="2.2" fill="none">
<line x1="233.5" y1="1602.0" x2="1015.0" y2="1602.0"/>
<polyline points="243.5,1596.7 233.5,1602.0 243.5,1607.3"/>
<polyline points="1005.0,1596.7 1015.0,1602.0 1005.0,1607.3"/>
</g>
<text transform="translate(594.11 1600.16) scale(0.2236 0.2394)" font-size="100" font-weight="bold" fill="#ff00ff">CSCs</text>
<text transform="translate(105.86 2335.09) scale(0.3969 0.4085)" font-size="100">0</text>
<text transform="translate(73.31 2185.09) scale(0.3969 0.4085)" font-size="100">0.2</text>
<text transform="translate(72.52 2035.09) scale(0.3969 0.4085)" font-size="100">0.4</text>
<text transform="translate(72.91 1885.09) scale(0.3969 0.4085)" font-size="100">0.6</text>
<text transform="translate(72.91 1735.09) scale(0.3969 0.4085)" font-size="100">0.8</text>
<text transform="translate(106.26 1586.89) scale(0.3969 0.4085)" font-size="100">1</text>
<text transform="translate(73.31 1436.89) scale(0.3969 0.4085)" font-size="100">1.2</text>
<text transform="translate(122.02 2361.79) scale(0.3938 0.4056)" font-size="100">0</text>
<text transform="translate(226.65 2361.79) scale(0.3942 0.4056)" font-size="100">100</text>
<text transform="translate(350.19 2361.79) scale(0.4025 0.4056)" font-size="100">200</text>
<text transform="translate(476.40 2361.79) scale(0.4006 0.4056)" font-size="100">300</text>
<text transform="translate(604.00 2361.79) scale(0.3994 0.4056)" font-size="100">400</text>
<text transform="translate(727.60 2361.79) scale(0.4006 0.4056)" font-size="100">500</text>
<text transform="translate(854.19 2361.79) scale(0.4019 0.4056)" font-size="100">600</text>
<text transform="translate(978.20 2361.79) scale(0.4006 0.4056)" font-size="100">700</text>
<text transform="translate(1105.82 2361.79) scale(0.3956 0.4056)" font-size="100">800</text>
<text transform="translate(829.03 2401.90) scale(0.3962 0.4145)" font-size="100">LLP decay R [cm]</text>
<text transform="translate(45.90 1723.58) rotate(-90) scale(0.3977 0.4145)" font-size="100">L1T+HLT acceptance</text>
<text transform="translate(145.96 1334.31) scale(0.4603 0.4915)" font-size="100" font-weight="bold">CMS</text>
<text transform="translate(261.11 1334.16) scale(0.4294 0.4378)" font-size="100" font-style="italic">Simulation</text>
<text transform="translate(942.37 1333.92) scale(0.4058 0.3989)" font-size="100">(13.6 TeV)</text>
<path d="M189.0 1390.6H269.5" stroke="#33cccc" stroke-width="3.6"/>
<path d="M229.0 1378.9V1381.3M229.0 1399.9V1402.3" stroke="#33cccc" stroke-width="3.6"/>
<path d="M221.0 1378.9H237.0M221.0 1402.3H237.0" stroke="#33cccc" stroke-width="3.6"/>
<polygon points="219.4,1390.6 229.0,1376.4 238.6,1390.6 229.0,1404.8" fill="#33cccc"/>
<text transform="translate(286.25 1398.90) scale(0.2694 0.2870)" font-size="100">Displaced-jet using tracker (cτ = 0.1m)</text>
<path d="M189.0 1429.7H269.5" stroke="#ff0000" stroke-width="3.6"/>
<path d="M229.0 1418.0V1420.4M229.0 1439.0V1441.4" stroke="#ff0000" stroke-width="3.6"/>
<path d="M221.0 1418.0H237.0M221.0 1441.4H237.0" stroke="#ff0000" stroke-width="3.6"/>
<circle cx="229.0" cy="1429.7" r="9.2" fill="#ff0000"/>
<text transform="translate(286.24 1438.00) scale(0.2698 0.2870)" font-size="100">Delayed-jet using ECAL timing (cτ = 1m)</text>
<path d="M189.0 1468.8H269.5" stroke="#0000ff" stroke-width="3.6"/>
<path d="M229.0 1457.1V1459.5M229.0 1478.1V1480.5" stroke="#0000ff" stroke-width="3.6"/>
<path d="M221.0 1457.1H237.0M221.0 1480.5H237.0" stroke="#0000ff" stroke-width="3.6"/>
<rect x="219.3" y="1459.1" width="19.4" height="19.4" fill="#0000ff"/>
<text transform="translate(286.24 1477.10) scale(0.2703 0.2870)" font-size="100">Displaced-jet using HCAL (cτ = 1m)</text>
<path d="M189.0 1507.9H269.5" stroke="#009900" stroke-width="3.6"/>
<path d="M229.0 1496.2V1498.6M229.0 1517.2V1519.6" stroke="#009900" stroke-width="3.6"/>
<path d="M221.0 1496.2H237.0M221.0 1519.6H237.0" stroke="#009900" stroke-width="3.6"/>
<polygon points="219.5,1517.4 238.5,1517.4 229.0,1498.4" fill="#009900"/>
<text transform="translate(286.23 1516.20) scale(0.2707 0.2870)" font-size="100">Muon Detector Showers with DTs (cτ = 1m)</text>
<path d="M189.0 1547.0H269.5" stroke="#ff00ff" stroke-width="3.6"/>
<path d="M229.0 1535.3V1537.7M229.0 1556.3V1558.7" stroke="#ff00ff" stroke-width="3.6"/>
<path d="M221.0 1535.3H237.0M221.0 1558.7H237.0" stroke="#ff00ff" stroke-width="3.6"/>
<polygon points="219.5,1537.5 238.5,1537.5 229.0,1556.5" fill="#ff00ff"/>
<text transform="translate(286.25 1555.30) scale(0.2691 0.2870)" font-size="100">Muon Detector Showers with CSCs (cτ = 1m)</text>
<text transform="translate(873.60 1424.20) scale(0.2875 0.3043)" font-size="100">H</text>
<text transform="translate(902.64 1432.77) scale(0.2822 0.4667)" font-size="100" style="font-family:NanumGothic">→</text>
<text transform="translate(937.94 1424.30) scale(0.2852 0.3029)" font-size="100">XX</text>
<text transform="translate(986.64 1432.83) scale(0.2800 0.4700)" font-size="100" style="font-family:NanumGothic">→</text>
<text transform="translate(1022.13 1424.30) scale(0.2848 0.2932)" font-size="100">4b</text>
<text transform="translate(873.85 1475.51) scale(0.2787 0.2888)" font-size="100">m<tspan font-size="68" dy="27.5">H</tspan><tspan dy="-27.5"> = 350 GeV</tspan></text>
<text transform="translate(873.75 1525.01) scale(0.2787 0.2888)" font-size="100">m<tspan font-size="68" dy="27.5">X</tspan><tspan dy="-27.5"> = 80 GeV</tspan></text>
</g>
<g>
<path d="M134.0 3547.3V3517.3M134.0 2572.3V2602.3M159.1 3547.3V3532.3M159.1 2572.3V2587.3M184.3 3547.3V3532.3M184.3 2572.3V2587.3M209.4 3547.3V3532.3M209.4 2572.3V2587.3M234.6 3547.3V3532.3M234.6 2572.3V2587.3M259.7 3547.3V3517.3M259.7 2572.3V2602.3M284.8 3547.3V3532.3M284.8 2572.3V2587.3M310.0 3547.3V3532.3M310.0 2572.3V2587.3M335.1 3547.3V3532.3M335.1 2572.3V2587.3M360.2 3547.3V3532.3M360.2 2572.3V2587.3M385.4 3547.3V3517.3M385.4 2572.3V2602.3M410.5 3547.3V3532.3M410.5 2572.3V2587.3M435.6 3547.3V3532.3M435.6 2572.3V2587.3M460.8 3547.3V3532.3M460.8 2572.3V2587.3M485.9 3547.3V3532.3M485.9 2572.3V2587.3M511.1 3547.3V3517.3M511.1 2572.3V2602.3M536.2 3547.3V3532.3M536.2 2572.3V2587.3M561.3 3547.3V3532.3M561.3 2572.3V2587.3M586.5 3547.3V3532.3M586.5 2572.3V2587.3M611.6 3547.3V3532.3M611.6 2572.3V2587.3M636.8 3547.3V3517.3M636.8 2572.3V2602.3M661.9 3547.3V3532.3M661.9 2572.3V2587.3M687.0 3547.3V3532.3M687.0 2572.3V2587.3M712.2 3547.3V3532.3M712.2 2572.3V2587.3M737.3 3547.3V3532.3M737.3 2572.3V2587.3M762.4 3547.3V3517.3M762.4 2572.3V2602.3M787.6 3547.3V3532.3M787.6 2572.3V2587.3M812.7 3547.3V3532.3M812.7 2572.3V2587.3M837.9 3547.3V3532.3M837.9 2572.3V2587.3M863.0 3547.3V3532.3M863.0 2572.3V2587.3M888.1 3547.3V3517.3M888.1 2572.3V2602.3M913.3 3547.3V3532.3M913.3 2572.3V2587.3M938.4 3547.3V3532.3M938.4 2572.3V2587.3M963.5 3547.3V3532.3M963.5 2572.3V2587.3M988.7 3547.3V3532.3M988.7 2572.3V2587.3M1013.8 3547.3V3517.3M1013.8 2572.3V2602.3M1038.9 3547.3V3532.3M1038.9 2572.3V2587.3M1064.1 3547.3V3532.3M1064.1 2572.3V2587.3M1089.2 3547.3V3532.3M1089.2 2572.3V2587.3M1114.4 3547.3V3532.3M1114.4 2572.3V2587.3M1139.5 3547.3V3517.3M1139.5 2572.3V2602.3M134.0 3547.3H164.0M1139.5 3547.3H1109.5M134.0 3509.8H149.0M1139.5 3509.8H1124.5M134.0 3472.3H149.0M1139.5 3472.3H1124.5M134.0 3434.8H149.0M1139.5 3434.8H1124.5M134.0 3397.3H164.0M1139.5 3397.3H1109.5M134.0 3359.8H149.0M1139.5 3359.8H1124.5M134.0 3322.3H149.0M1139.5 3322.3H1124.5M134.0 3284.8H149.0M1139.5 3284.8H1124.5M134.0 3247.3H164.0M1139.5 3247.3H1109.5M134.0 3209.8H149.0M1139.5 3209.8H1124.5M134.0 3172.3H149.0M1139.5 3172.3H1124.5M134.0 3134.8H149.0M1139.5 3134.8H1124.5M134.0 3097.3H164.0M1139.5 3097.3H1109.5M134.0 3059.8H149.0M1139.5 3059.8H1124.5M134.0 3022.3H149.0M1139.5 3022.3H1124.5M134.0 2984.8H149.0M1139.5 2984.8H1124.5M134.0 2947.3H164.0M1139.5 2947.3H1109.5M134.0 2909.8H149.0M1139.5 2909.8H1124.5M134.0 2872.3H149.0M1139.5 2872.3H1124.5M134.0 2834.8H149.0M1139.5 2834.8H1124.5M134.0 2797.3H164.0M1139.5 2797.3H1109.5M134.0 2759.8H149.0M1139.5 2759.8H1124.5M134.0 2722.3H149.0M1139.5 2722.3H1124.5M134.0 2684.8H149.0M1139.5 2684.8H1124.5M134.0 2647.3H164.0M1139.5 2647.3H1109.5M134.0 2609.8H149.0M1139.5 2609.8H1124.5M134.0 2572.3H149.0M1139.5 2572.3H1124.5" stroke="#000" stroke-width="2" fill="none"/>
<rect x="134.0" y="2572.3" width="1005.5" height="975.0" fill="none" stroke="#000" stroke-width="2.4"/>
<rect x="134.0" y="2797.3" width="138.1" height="751.5" fill="#00ffff" fill-opacity="0.110"/>
<rect x="294.8" y="2797.3" width="24.1" height="751.5" fill="#ff0000" fill-opacity="0.155"/>
<rect x="356.4" y="2797.3" width="139.1" height="751.5" fill="#0000ff" fill-opacity="0.155"/>
<rect x="637.0" y="2797.3" width="401.7" height="751.5" fill="#009900" fill-opacity="0.150"/>
<text transform="translate(270.61 3035.49) rotate(-90) scale(0.2892 0.2946)" font-size="100" font-weight="bold" fill="#33cccc">Tracker</text>
<text transform="translate(317.81 3022.08) rotate(-90) scale(0.2828 0.2944)" font-size="100" font-weight="bold" fill="#ff0000">ECAL</text>
<text transform="translate(493.49 3024.40) rotate(-90) scale(0.2858 0.3070)" font-size="100" font-weight="bold" fill="#0000ff">HCAL</text>
<text transform="translate(659.59 3052.22) rotate(-90) scale(0.2890 0.3057)" font-size="100" font-weight="bold" fill="#009900">Muon DTs</text>
<path d="M134.0 3379.3H135.8M144.8 3379.3H146.6M146.6 3329.1H148.4M157.4 3329.1H159.1M159.1 3287.1H160.9M169.9 3287.1H171.7M171.7 3242.8H173.5M182.5 3242.8H184.3M184.3 3234.6H186.1M195.1 3234.6H196.8M196.8 3194.8H198.6M207.6 3194.8H209.4M209.4 3169.3H211.2M220.2 3169.3H222.0M222.0 3164.1H223.8M232.8 3164.1H234.6M234.6 3143.8H236.3M245.3 3143.8H247.1M247.1 3129.6H248.9M257.9 3129.6H259.7M259.7 3098.8H267.8M276.8 3098.8H284.8M284.8 3082.3H292.9M301.9 3082.3H310.0M310.0 3167.1H318.0M327.0 3167.1H335.1M322.5 3149.1V3157.8M322.5 3176.4V3185.1" stroke="#ff0000" stroke-width="3.6" fill="none"/>
<path d="M134.0 3376.0V3382.6M146.6 3376.0V3382.6M146.6 3325.8V3332.4M159.1 3325.8V3332.4M159.1 3283.8V3290.4M171.7 3283.8V3290.4M171.7 3239.5V3246.1M184.3 3239.5V3246.1M184.3 3231.2V3237.9M196.8 3231.2V3237.9M196.8 3191.5V3198.1M209.4 3191.5V3198.1M209.4 3166.0V3172.6M222.0 3166.0V3172.6M222.0 3160.8V3167.4M234.6 3160.8V3167.4M234.6 3140.5V3147.1M247.1 3140.5V3147.1M247.1 3126.2V3132.9M259.7 3126.2V3132.9M259.7 3095.5V3102.1M284.8 3095.5V3102.1M284.8 3079.0V3085.6M310.0 3079.0V3085.6M310.0 3163.8V3170.4M335.1 3163.8V3170.4M319.2 3149.1H325.8M319.2 3185.1H325.8" stroke="#ff0000" stroke-width="3.5" fill="none"/>
<circle cx="140.3" cy="3379.3" r="9.2" fill="#ff0000"/><circle cx="152.9" cy="3329.1" r="9.2" fill="#ff0000"/><circle cx="165.4" cy="3287.1" r="9.2" fill="#ff0000"/><circle cx="178.0" cy="3242.8" r="9.2" fill="#ff0000"/><circle cx="190.6" cy="3234.6" r="9.2" fill="#ff0000"/><circle cx="203.1" cy="3194.8" r="9.2" fill="#ff0000"/><circle cx="215.7" cy="3169.3" r="9.2" fill="#ff0000"/><circle cx="228.3" cy="3164.1" r="9.2" fill="#ff0000"/><circle cx="240.8" cy="3143.8" r="9.2" fill="#ff0000"/><circle cx="253.4" cy="3129.6" r="9.2" fill="#ff0000"/><circle cx="272.3" cy="3098.8" r="9.2" fill="#ff0000"/><circle cx="297.4" cy="3082.3" r="9.2" fill="#ff0000"/><circle cx="322.5" cy="3167.1" r="9.2" fill="#ff0000"/>
<path d="M134.0 3522.6H135.8M144.8 3522.6H146.6M146.6 3527.1H148.4M157.4 3527.1H159.1M159.1 3521.8H160.9M169.9 3521.8H171.7M171.7 3519.6H173.5M182.5 3519.6H184.3M184.3 3520.3H186.1M195.1 3520.3H196.8M196.8 3521.1H198.6M207.6 3521.1H209.4M209.4 3522.6H211.2M220.2 3522.6H222.0M222.0 3515.8H223.8M232.8 3515.8H234.6M234.6 3518.1H236.3M245.3 3518.1H247.1M247.1 3513.6H248.9M257.9 3513.6H259.7M259.7 3515.8H267.8M276.8 3515.8H284.8M284.8 3506.1H292.9M301.9 3506.1H310.0M310.0 3445.3H318.0M327.0 3445.3H335.1M335.1 3412.3H343.2M352.2 3412.3H360.2M347.7 3401.1V3403.0M347.7 3421.6V3423.6M360.2 3374.8H368.3M377.3 3374.8H385.4M372.8 3358.3V3365.5M372.8 3384.1V3391.3M385.4 3192.6H393.4M402.4 3192.6H410.5M397.9 3168.6V3183.2M397.9 3201.9V3216.6M410.5 3071.8H418.6M427.6 3071.8H435.6M423.1 3048.6V3062.5M423.1 3081.1V3095.1M435.6 3096.6H443.7M452.7 3096.6H460.8M448.2 3068.1V3087.2M448.2 3105.9V3125.1M460.8 3114.6H468.9M477.9 3114.6H485.9M473.4 3081.6V3105.2M473.4 3123.9V3148.3M485.9 3373.3H494.0M503.0 3373.3H511.1M498.5 3339.6V3364.0M498.5 3382.6V3407.1" stroke="#0000ff" stroke-width="3.6" fill="none"/>
<path d="M134.0 3519.2V3525.9M146.6 3519.2V3525.9M146.6 3523.8V3530.4M159.1 3523.8V3530.4M159.1 3518.5V3525.1M171.7 3518.5V3525.1M171.7 3516.2V3522.9M184.3 3516.2V3522.9M184.3 3517.0V3523.6M196.8 3517.0V3523.6M196.8 3517.8V3524.4M209.4 3517.8V3524.4M209.4 3519.2V3525.9M222.0 3519.2V3525.9M222.0 3512.5V3519.1M234.6 3512.5V3519.1M234.6 3514.8V3521.4M247.1 3514.8V3521.4M247.1 3510.2V3516.9M259.7 3510.2V3516.9M259.7 3512.5V3519.1M284.8 3512.5V3519.1M284.8 3502.8V3509.4M310.0 3502.8V3509.4M310.0 3442.0V3448.6M335.1 3442.0V3448.6M335.1 3409.0V3415.6M360.2 3409.0V3415.6M344.4 3401.1H351.0M344.4 3423.6H351.0M360.2 3371.5V3378.1M385.4 3371.5V3378.1M369.5 3358.3H376.1M369.5 3391.3H376.1M385.4 3189.2V3195.9M410.5 3189.2V3195.9M394.6 3168.6H401.2M394.6 3216.6H401.2M410.5 3068.5V3075.1M435.6 3068.5V3075.1M419.8 3048.6H426.4M419.8 3095.1H426.4M435.6 3093.2V3099.9M460.8 3093.2V3099.9M444.9 3068.1H451.5M444.9 3125.1H451.5M460.8 3111.2V3117.9M485.9 3111.2V3117.9M470.1 3081.6H476.7M470.1 3148.3H476.7M485.9 3370.0V3376.6M511.1 3370.0V3376.6M495.2 3339.6H501.8M495.2 3407.1H501.8" stroke="#0000ff" stroke-width="3.5" fill="none"/>
<rect x="130.6" y="3512.9" width="19.4" height="19.4" fill="#0000ff"/><rect x="143.2" y="3517.4" width="19.4" height="19.4" fill="#0000ff"/><rect x="155.7" y="3512.1" width="19.4" height="19.4" fill="#0000ff"/><rect x="168.3" y="3509.9" width="19.4" height="19.4" fill="#0000ff"/><rect x="180.9" y="3510.6" width="19.4" height="19.4" fill="#0000ff"/><rect x="193.4" y="3511.4" width="19.4" height="19.4" fill="#0000ff"/><rect x="206.0" y="3512.9" width="19.4" height="19.4" fill="#0000ff"/><rect x="218.6" y="3506.1" width="19.4" height="19.4" fill="#0000ff"/><rect x="231.1" y="3508.4" width="19.4" height="19.4" fill="#0000ff"/><rect x="243.7" y="3503.9" width="19.4" height="19.4" fill="#0000ff"/><rect x="262.6" y="3506.1" width="19.4" height="19.4" fill="#0000ff"/><rect x="287.7" y="3496.4" width="19.4" height="19.4" fill="#0000ff"/><rect x="312.8" y="3435.6" width="19.4" height="19.4" fill="#0000ff"/><rect x="338.0" y="3402.6" width="19.4" height="19.4" fill="#0000ff"/><rect x="363.1" y="3365.1" width="19.4" height="19.4" fill="#0000ff"/><rect x="388.2" y="3182.9" width="19.4" height="19.4" fill="#0000ff"/><rect x="413.4" y="3062.1" width="19.4" height="19.4" fill="#0000ff"/><rect x="438.5" y="3086.9" width="19.4" height="19.4" fill="#0000ff"/><rect x="463.7" y="3104.9" width="19.4" height="19.4" fill="#0000ff"/><rect x="488.8" y="3363.6" width="19.4" height="19.4" fill="#0000ff"/>
<path d="M385.4 3516.6H393.4M402.4 3516.6H410.5M410.5 3492.6H418.6M427.6 3492.6H435.6M435.6 3477.6H443.7M452.7 3477.6H460.8M448.2 3461.8V3468.2M448.2 3486.9V3493.3M460.8 3398.8H468.9M477.9 3398.8H485.9M473.4 3373.3V3389.5M473.4 3408.1V3424.3M485.9 3309.6H494.0M503.0 3309.6H511.1M498.5 3275.8V3300.2M498.5 3318.9V3338.8M511.1 3215.1H522.3M531.3 3215.1H542.5M526.8 3179.8V3205.8M526.8 3224.4V3250.3M542.5 3071.8H553.7M562.7 3071.8H573.9M558.2 3034.3V3062.5M558.2 3081.1V3109.3M573.9 2994.6H585.1M594.1 2994.6H605.3M589.6 2949.6V2985.2M589.6 3003.9V3039.6M605.3 2941.3H616.5M625.5 2941.3H636.8M621.0 2896.3V2932.0M621.0 2950.6V2997.6M636.8 2876.1H648.0M657.0 2876.1H668.2M652.5 2838.6V2866.8M652.5 2885.4V2921.1M668.2 2939.1H679.4M688.4 2939.1H699.6M683.9 2896.3V2929.8M683.9 2948.4V2990.8M699.6 2932.3H726.5M735.5 2932.3H762.4M731.0 2883.6V2923.0M731.0 2941.6V2992.3M762.4 2888.1H946.5M955.5 2888.1H1139.5M951.0 2861.8V2878.8M951.0 2897.4V2921.8" stroke="#009900" stroke-width="3.6" fill="none"/>
<path d="M385.4 3513.2V3519.9M410.5 3513.2V3519.9M410.5 3489.2V3495.9M435.6 3489.2V3495.9M435.6 3474.2V3480.9M460.8 3474.2V3480.9M444.9 3461.8H451.5M444.9 3493.3H451.5M460.8 3395.5V3402.1M485.9 3395.5V3402.1M470.1 3373.3H476.7M470.1 3424.3H476.7M485.9 3306.2V3312.9M511.1 3306.2V3312.9M495.2 3275.8H501.8M495.2 3338.8H501.8M511.1 3211.8V3218.4M542.5 3211.8V3218.4M523.5 3179.8H530.1M523.5 3250.3H530.1M542.5 3068.5V3075.1M573.9 3068.5V3075.1M554.9 3034.3H561.5M554.9 3109.3H561.5M573.9 2991.2V2997.9M605.3 2991.2V2997.9M586.3 2949.6H592.9M586.3 3039.6H592.9M605.3 2938.0V2944.6M636.8 2938.0V2944.6M617.7 2896.3H624.3M617.7 2997.6H624.3M636.8 2872.8V2879.4M668.2 2872.8V2879.4M649.2 2838.6H655.8M649.2 2921.1H655.8M668.2 2935.8V2942.4M699.6 2935.8V2942.4M680.6 2896.3H687.2M680.6 2990.8H687.2M699.6 2929.0V2935.6M762.4 2929.0V2935.6M727.7 2883.6H734.3M727.7 2992.3H734.3M762.4 2884.8V2891.4M1139.5 2884.8V2891.4M947.7 2861.8H954.3M947.7 2921.8H954.3" stroke="#009900" stroke-width="3.5" fill="none"/>
<polygon points="388.4,3526.1 407.4,3526.1 397.9,3507.1" fill="#009900"/><polygon points="413.6,3502.1 432.6,3502.1 423.1,3483.1" fill="#009900"/><polygon points="438.7,3487.1 457.7,3487.1 448.2,3468.1" fill="#009900"/><polygon points="463.9,3408.3 482.9,3408.3 473.4,3389.3" fill="#009900"/><polygon points="489.0,3319.1 508.0,3319.1 498.5,3300.1" fill="#009900"/><polygon points="517.3,3224.6 536.3,3224.6 526.8,3205.6" fill="#009900"/><polygon points="548.7,3081.3 567.7,3081.3 558.2,3062.3" fill="#009900"/><polygon points="580.1,3004.1 599.1,3004.1 589.6,2985.1" fill="#009900"/><polygon points="611.5,2950.8 630.5,2950.8 621.0,2931.8" fill="#009900"/><polygon points="643.0,2885.6 662.0,2885.6 652.5,2866.6" fill="#009900"/><polygon points="674.4,2948.6 693.4,2948.6 683.9,2929.6" fill="#009900"/><polygon points="721.5,2941.8 740.5,2941.8 731.0,2922.8" fill="#009900"/><polygon points="941.5,2897.6 960.5,2897.6 951.0,2878.6" fill="#009900"/>
<path d="M222.0 3546.6H223.8M232.8 3546.6H234.6M228.3 3481.3V3537.2M234.6 3545.1H236.3M245.3 3545.1H247.1M240.8 3530.8V3535.8M247.1 3533.8H248.9M257.9 3533.8H259.7M253.4 3522.6V3524.5M253.4 3543.1V3545.1M259.7 3536.1H267.8M276.8 3536.1H284.8M284.8 3522.6H292.9M301.9 3522.6H310.0M310.0 3461.1H318.0M327.0 3461.1H335.1M322.5 3446.1V3451.8M322.5 3470.4V3476.1M335.1 3419.8H343.2M352.2 3419.8H360.2M347.7 3399.6V3410.5M347.7 3429.1V3440.1M360.2 3395.8H368.3M377.3 3395.8H385.4M372.8 3372.6V3386.5M372.8 3405.1V3419.1M385.4 3412.3H393.4M402.4 3412.3H410.5M397.9 3385.3V3403.0M397.9 3421.6V3439.3M410.5 3413.1H418.6M427.6 3413.1H435.6M423.1 3385.3V3403.8M423.1 3422.4V3440.8M435.6 3374.1H443.7M452.7 3374.1H460.8M448.2 3338.1V3364.8M448.2 3383.4V3410.1M460.8 3388.3H468.9M477.9 3388.3H485.9M473.4 3344.1V3379.0M473.4 3397.6V3426.6M485.9 3430.3H494.0M503.0 3430.3H511.1M498.5 3383.1V3421.0M498.5 3439.6V3467.8M511.1 3370.3H522.3M531.3 3370.3H542.5M526.8 3317.8V3361.0M526.8 3379.6V3422.8M542.5 3376.3H553.7M562.7 3376.3H573.9M558.2 3323.8V3367.0M558.2 3385.6V3428.8M573.9 3275.8H585.1M594.1 3275.8H605.3M589.6 3203.1V3266.5M589.6 3285.1V3350.8M605.3 3359.1H616.5M625.5 3359.1H636.8M621.0 3270.6V3349.8M621.0 3368.4V3430.3M636.8 3236.1H648.0M657.0 3236.1H668.2M652.5 3143.8V3226.8M652.5 3245.4V3321.6M668.2 3308.1H679.4M688.4 3308.1H699.6M683.9 3218.1V3298.8M683.9 3317.4V3398.1M699.6 3210.6H726.5M735.5 3210.6H762.4M731.0 3108.6V3201.2M731.0 3219.9V3308.1M762.4 3031.3H946.5M955.5 3031.3H1139.5M951.0 2963.8V3022.0M951.0 3040.6V3108.6" stroke="#ff00ff" stroke-width="3.6" fill="none"/>
<path d="M222.0 3543.2V3549.9M234.6 3543.2V3549.9M225.0 3481.3H231.6M234.6 3541.8V3548.4M247.1 3541.8V3548.4M237.5 3530.8H244.1M247.1 3530.5V3537.1M259.7 3530.5V3537.1M250.1 3522.6H256.7M250.1 3545.1H256.7M259.7 3532.8V3539.4M284.8 3532.8V3539.4M284.8 3519.2V3525.9M310.0 3519.2V3525.9M310.0 3457.8V3464.4M335.1 3457.8V3464.4M319.2 3446.1H325.8M319.2 3476.1H325.8M335.1 3416.5V3423.1M360.2 3416.5V3423.1M344.4 3399.6H351.0M344.4 3440.1H351.0M360.2 3392.5V3399.1M385.4 3392.5V3399.1M369.5 3372.6H376.1M369.5 3419.1H376.1M385.4 3409.0V3415.6M410.5 3409.0V3415.6M394.6 3385.3H401.2M394.6 3439.3H401.2M410.5 3409.8V3416.4M435.6 3409.8V3416.4M419.8 3385.3H426.4M419.8 3440.8H426.4M435.6 3370.8V3377.4M460.8 3370.8V3377.4M444.9 3338.1H451.5M444.9 3410.1H451.5M460.8 3385.0V3391.6M485.9 3385.0V3391.6M470.1 3344.1H476.7M470.1 3426.6H476.7M485.9 3427.0V3433.6M511.1 3427.0V3433.6M495.2 3383.1H501.8M495.2 3467.8H501.8M511.1 3367.0V3373.6M542.5 3367.0V3373.6M523.5 3317.8H530.1M523.5 3422.8H530.1M542.5 3373.0V3379.6M573.9 3373.0V3379.6M554.9 3323.8H561.5M554.9 3428.8H561.5M573.9 3272.5V3279.1M605.3 3272.5V3279.1M586.3 3203.1H592.9M586.3 3350.8H592.9M605.3 3355.8V3362.4M636.8 3355.8V3362.4M617.7 3270.6H624.3M617.7 3430.3H624.3M636.8 3232.8V3239.4M668.2 3232.8V3239.4M649.2 3143.8H655.8M649.2 3321.6H655.8M668.2 3304.8V3311.4M699.6 3304.8V3311.4M680.6 3218.1H687.2M680.6 3398.1H687.2M699.6 3207.2V3213.9M762.4 3207.2V3213.9M727.7 3108.6H734.3M727.7 3308.1H734.3M762.4 3028.0V3034.6M1139.5 3028.0V3034.6M947.7 2963.8H954.3M947.7 3108.6H954.3" stroke="#ff00ff" stroke-width="3.5" fill="none"/>
<polygon points="218.8,3537.1 237.8,3537.1 228.3,3556.1" fill="#ff00ff"/><polygon points="231.3,3535.6 250.3,3535.6 240.8,3554.6" fill="#ff00ff"/><polygon points="243.9,3524.3 262.9,3524.3 253.4,3543.3" fill="#ff00ff"/><polygon points="262.8,3526.6 281.8,3526.6 272.3,3545.6" fill="#ff00ff"/><polygon points="287.9,3513.1 306.9,3513.1 297.4,3532.1" fill="#ff00ff"/><polygon points="313.0,3451.6 332.0,3451.6 322.5,3470.6" fill="#ff00ff"/><polygon points="338.2,3410.3 357.2,3410.3 347.7,3429.3" fill="#ff00ff"/><polygon points="363.3,3386.3 382.3,3386.3 372.8,3405.3" fill="#ff00ff"/><polygon points="388.4,3402.8 407.4,3402.8 397.9,3421.8" fill="#ff00ff"/><polygon points="413.6,3403.6 432.6,3403.6 423.1,3422.6" fill="#ff00ff"/><polygon points="438.7,3364.6 457.7,3364.6 448.2,3383.6" fill="#ff00ff"/><polygon points="463.9,3378.8 482.9,3378.8 473.4,3397.8" fill="#ff00ff"/><polygon points="489.0,3420.8 508.0,3420.8 498.5,3439.8" fill="#ff00ff"/><polygon points="517.3,3360.8 536.3,3360.8 526.8,3379.8" fill="#ff00ff"/><polygon points="548.7,3366.8 567.7,3366.8 558.2,3385.8" fill="#ff00ff"/><polygon points="580.1,3266.3 599.1,3266.3 589.6,3285.3" fill="#ff00ff"/><polygon points="611.5,3349.6 630.5,3349.6 621.0,3368.6" fill="#ff00ff"/><polygon points="643.0,3226.6 662.0,3226.6 652.5,3245.6" fill="#ff00ff"/><polygon points="674.4,3298.6 693.4,3298.6 683.9,3317.6" fill="#ff00ff"/><polygon points="721.5,3201.1 740.5,3201.1 731.0,3220.1" fill="#ff00ff"/><polygon points="941.5,3021.8 960.5,3021.8 951.0,3040.8" fill="#ff00ff"/>
<path d="M134.0 3289.3H135.8M144.8 3289.3H146.6M146.6 3199.3H148.4M157.4 3199.3H159.1M159.1 3089.1H160.9M169.9 3089.1H171.7M165.4 3077.8V3079.8M165.4 3098.4V3100.3M171.7 3010.3H173.5M182.5 3010.3H184.3M178.0 2993.8V3001.0M178.0 3019.6V3026.8M184.3 2949.6H186.1M195.1 2949.6H196.8M190.6 2927.1V2940.2M190.6 2958.9V2972.1M196.8 2934.6H198.6M207.6 2934.6H209.4M203.1 2901.6V2925.2M203.1 2943.9V2976.6M209.4 2983.3H211.2M220.2 2983.3H222.0M215.7 2936.1V2974.0M215.7 2992.6V3038.1M222.0 2965.3H223.8M232.8 2965.3H234.6M228.3 2900.1V2956.0M228.3 2974.6V3051.6M234.6 2907.6H236.3M245.3 2907.6H247.1M240.8 2834.1V2898.2M240.8 2916.9V3035.1M247.1 3139.3H248.9M257.9 3139.3H259.7M253.4 2969.8V3130.0M253.4 3148.6V3317.8M259.7 2900.8H318.0M327.0 2900.8H385.4M322.5 2838.6V2891.5M322.5 2910.1V3001.3M385.4 2864.8H443.7M452.7 2864.8H511.1M448.2 2797.3V2855.5M448.2 2874.1V3527.1" stroke="#33cccc" stroke-width="3.6" fill="none"/>
<path d="M134.0 3286.0V3292.6M146.6 3286.0V3292.6M146.6 3196.0V3202.6M159.1 3196.0V3202.6M159.1 3085.8V3092.4M171.7 3085.8V3092.4M162.1 3077.8H168.7M162.1 3100.3H168.7M171.7 3007.0V3013.6M184.3 3007.0V3013.6M174.7 2993.8H181.3M174.7 3026.8H181.3M184.3 2946.2V2952.9M196.8 2946.2V2952.9M187.3 2927.1H193.9M187.3 2972.1H193.9M196.8 2931.2V2937.9M209.4 2931.2V2937.9M199.8 2901.6H206.4M199.8 2976.6H206.4M209.4 2980.0V2986.6M222.0 2980.0V2986.6M212.4 2936.1H219.0M212.4 3038.1H219.0M222.0 2962.0V2968.6M234.6 2962.0V2968.6M225.0 2900.1H231.6M225.0 3051.6H231.6M234.6 2904.2V2910.9M247.1 2904.2V2910.9M237.5 2834.1H244.1M237.5 3035.1H244.1M247.1 3136.0V3142.6M259.7 3136.0V3142.6M250.1 2969.8H256.7M250.1 3317.8H256.7M259.7 2897.5V2904.1M385.4 2897.5V2904.1M319.2 2838.6H325.8M319.2 3001.3H325.8M385.4 2861.5V2868.1M511.1 2861.5V2868.1M444.9 2797.3H451.5M444.9 3527.1H451.5" stroke="#33cccc" stroke-width="3.5" fill="none"/>
<polygon points="130.7,3289.3 140.3,3275.1 149.9,3289.3 140.3,3303.5" fill="#33cccc"/><polygon points="143.3,3199.3 152.9,3185.1 162.5,3199.3 152.9,3213.5" fill="#33cccc"/><polygon points="155.8,3089.1 165.4,3074.9 175.0,3089.1 165.4,3103.2" fill="#33cccc"/><polygon points="168.4,3010.3 178.0,2996.1 187.6,3010.3 178.0,3024.5" fill="#33cccc"/><polygon points="181.0,2949.6 190.6,2935.4 200.2,2949.6 190.6,2963.8" fill="#33cccc"/><polygon points="193.5,2934.6 203.1,2920.4 212.7,2934.6 203.1,2948.8" fill="#33cccc"/><polygon points="206.1,2983.3 215.7,2969.1 225.3,2983.3 215.7,2997.5" fill="#33cccc"/><polygon points="218.7,2965.3 228.3,2951.1 237.9,2965.3 228.3,2979.5" fill="#33cccc"/><polygon points="231.2,2907.6 240.8,2893.4 250.4,2907.6 240.8,2921.8" fill="#33cccc"/><polygon points="243.8,3139.3 253.4,3125.1 263.0,3139.3 253.4,3153.5" fill="#33cccc"/><polygon points="312.9,2900.8 322.5,2886.6 332.1,2900.8 322.5,2915.0" fill="#33cccc"/><polygon points="438.6,2864.8 448.2,2850.6 457.8,2864.8 448.2,2879.0" fill="#33cccc"/>
<line x1="234.4" y1="2797.3" x2="234.4" y2="3547.3" stroke="#000" stroke-width="2.2" stroke-dasharray="11 11.18" stroke-dashoffset="-7.50"/>
<line x1="1014.0" y1="2797.3" x2="1014.0" y2="3547.3" stroke="#000" stroke-width="2.2" stroke-dasharray="11 11.18" stroke-dashoffset="-7.50"/>
<g stroke="#ff00ff" stroke-width="2.2" fill="none">
<line x1="233.5" y1="2827.3" x2="1015.0" y2="2827.3"/>
<polyline points="243.5,2822.0 233.5,2827.3 243.5,2832.6"/>
<polyline points="1005.0,2822.0 1015.0,2827.3 1005.0,2832.6"/>
</g>
<text transform="translate(594.11 2825.46) scale(0.2236 0.2394)" font-size="100" font-weight="bold" fill="#ff00ff">CSCs</text>
<text transform="translate(105.86 3560.39) scale(0.3969 0.4085)" font-size="100">0</text>
<text transform="translate(73.31 3410.39) scale(0.3969 0.4085)" font-size="100">0.2</text>
<text transform="translate(72.52 3260.39) scale(0.3969 0.4085)" font-size="100">0.4</text>
<text transform="translate(72.91 3110.39) scale(0.3969 0.4085)" font-size="100">0.6</text>
<text transform="translate(72.91 2960.39) scale(0.3969 0.4085)" font-size="100">0.8</text>
<text transform="translate(106.26 2812.19) scale(0.3969 0.4085)" font-size="100">1</text>
<text transform="translate(73.31 2662.19) scale(0.3969 0.4085)" font-size="100">1.2</text>
<text transform="translate(122.02 3587.09) scale(0.3938 0.4056)" font-size="100">0</text>
<text transform="translate(226.65 3587.09) scale(0.3942 0.4056)" font-size="100">100</text>
<text transform="translate(350.19 3587.09) scale(0.4025 0.4056)" font-size="100">200</text>
<text transform="translate(476.40 3587.09) scale(0.4006 0.4056)" font-size="100">300</text>
<text transform="translate(604.00 3587.09) scale(0.3994 0.4056)" font-size="100">400</text>
<text transform="translate(727.60 3587.09) scale(0.4006 0.4056)" font-size="100">500</text>
<text transform="translate(854.19 3587.09) scale(0.4019 0.4056)" font-size="100">600</text>
<text transform="translate(978.20 3587.09) scale(0.4006 0.4056)" font-size="100">700</text>
<text transform="translate(1105.82 3587.09) scale(0.3956 0.4056)" font-size="100">800</text>
<text transform="translate(829.03 3627.20) scale(0.3962 0.4145)" font-size="100">LLP decay R [cm]</text>
<text transform="translate(45.90 2948.88) rotate(-90) scale(0.3977 0.4145)" font-size="100">L1T+HLT acceptance</text>
<text transform="translate(145.96 2559.61) scale(0.4603 0.4915)" font-size="100" font-weight="bold">CMS</text>
<text transform="translate(261.11 2559.46) scale(0.4294 0.4378)" font-size="100" font-style="italic">Simulation</text>
<text transform="translate(942.37 2559.22) scale(0.4058 0.3989)" font-size="100">(13.6 TeV)</text>
<path d="M189.0 2615.9H269.5" stroke="#33cccc" stroke-width="3.6"/>
<path d="M229.0 2604.2V2606.6M229.0 2625.2V2627.6" stroke="#33cccc" stroke-width="3.6"/>
<path d="M221.0 2604.2H237.0M221.0 2627.6H237.0" stroke="#33cccc" stroke-width="3.6"/>
<polygon points="219.4,2615.9 229.0,2601.7 238.6,2615.9 229.0,2630.1" fill="#33cccc"/>
<text transform="translate(286.25 2624.20) scale(0.2694 0.2870)" font-size="100">Displaced-jet using tracker (cτ = 0.1m)</text>
<path d="M189.0 2655.0H269.5" stroke="#ff0000" stroke-width="3.6"/>
<path d="M229.0 2643.3V2645.7M229.0 2664.3V2666.7" stroke="#ff0000" stroke-width="3.6"/>
<path d="M221.0 2643.3H237.0M221.0 2666.7H237.0" stroke="#ff0000" stroke-width="3.6"/>
<circle cx="229.0" cy="2655.0" r="9.2" fill="#ff0000"/>
<text transform="translate(286.24 2663.30) scale(0.2698 0.2870)" font-size="100">Delayed-jet using ECAL timing (cτ = 1m)</text>
<path d="M189.0 2694.1H269.5" stroke="#0000ff" stroke-width="3.6"/>
<path d="M229.0 2682.4V2684.8M229.0 2703.4V2705.8" stroke="#0000ff" stroke-width="3.6"/>
<path d="M221.0 2682.4H237.0M221.0 2705.8H237.0" stroke="#0000ff" stroke-width="3.6"/>
<rect x="219.3" y="2684.4" width="19.4" height="19.4" fill="#0000ff"/>
<text transform="translate(286.24 2702.40) scale(0.2703 0.2870)" font-size="100">Displaced-jet using HCAL (cτ = 1m)</text>
<path d="M189.0 2733.2H269.5" stroke="#009900" stroke-width="3.6"/>
<path d="M229.0 2721.5V2723.9M229.0 2742.5V2744.9" stroke="#009900" stroke-width="3.6"/>
<path d="M221.0 2721.5H237.0M221.0 2744.9H237.0" stroke="#009900" stroke-width="3.6"/>
<polygon points="219.5,2742.7 238.5,2742.7 229.0,2723.7" fill="#009900"/>
<text transform="translate(286.23 2741.50) scale(0.2707 0.2870)" font-size="100">Muon Detector Showers with DTs (cτ = 1m)</text>
<path d="M189.0 2772.3H269.5" stroke="#ff00ff" stroke-width="3.6"/>
<path d="M229.0 2760.6V2763.0M229.0 2781.6V2784.0" stroke="#ff00ff" stroke-width="3.6"/>
<path d="M221.0 2760.6H237.0M221.0 2784.0H237.0" stroke="#ff00ff" stroke-width="3.6"/>
<polygon points="219.5,2762.8 238.5,2762.8 229.0,2781.8" fill="#ff00ff"/>
<text transform="translate(286.25 2780.60) scale(0.2691 0.2870)" font-size="100">Muon Detector Showers with CSCs (cτ = 1m)</text>
<text transform="translate(873.60 2649.50) scale(0.2875 0.3043)" font-size="100">H</text>
<text transform="translate(902.64 2658.07) scale(0.2822 0.4667)" font-size="100" style="font-family:NanumGothic">→</text>
<text transform="translate(937.94 2649.60) scale(0.2852 0.3029)" font-size="100">XX</text>
<text transform="translate(986.64 2658.13) scale(0.2800 0.4700)" font-size="100" style="font-family:NanumGothic">→</text>
<text transform="translate(1022.13 2649.60) scale(0.2848 0.2932)" font-size="100">4b</text>
<text transform="translate(873.85 2700.81) scale(0.2787 0.2888)" font-size="100">m<tspan font-size="68" dy="27.5">H</tspan><tspan dy="-27.5"> = 350 GeV</tspan></text>
<text transform="translate(873.75 2750.31) scale(0.2787 0.2888)" font-size="100">m<tspan font-size="68" dy="27.5">X</tspan><tspan dy="-27.5"> = 160 GeV</tspan></text>
</g>
<g>
<path d="M126.5 4772.6V4742.6M126.5 3797.6V3827.6M151.6 4772.6V4757.6M151.6 3797.6V3812.6M176.8 4772.6V4757.6M176.8 3797.6V3812.6M201.9 4772.6V4757.6M201.9 3797.6V3812.6M227.1 4772.6V4757.6M227.1 3797.6V3812.6M252.2 4772.6V4742.6M252.2 3797.6V3827.6M277.3 4772.6V4757.6M277.3 3797.6V3812.6M302.5 4772.6V4757.6M302.5 3797.6V3812.6M327.6 4772.6V4757.6M327.6 3797.6V3812.6M352.7 4772.6V4757.6M352.7 3797.6V3812.6M377.9 4772.6V4742.6M377.9 3797.6V3827.6M403.0 4772.6V4757.6M403.0 3797.6V3812.6M428.1 4772.6V4757.6M428.1 3797.6V3812.6M453.3 4772.6V4757.6M453.3 3797.6V3812.6M478.4 4772.6V4757.6M478.4 3797.6V3812.6M503.6 4772.6V4742.6M503.6 3797.6V3827.6M528.7 4772.6V4757.6M528.7 3797.6V3812.6M553.8 4772.6V4757.6M553.8 3797.6V3812.6M579.0 4772.6V4757.6M579.0 3797.6V3812.6M604.1 4772.6V4757.6M604.1 3797.6V3812.6M629.2 4772.6V4742.6M629.2 3797.6V3827.6M654.4 4772.6V4757.6M654.4 3797.6V3812.6M679.5 4772.6V4757.6M679.5 3797.6V3812.6M704.7 4772.6V4757.6M704.7 3797.6V3812.6M729.8 4772.6V4757.6M729.8 3797.6V3812.6M754.9 4772.6V4742.6M754.9 3797.6V3827.6M780.1 4772.6V4757.6M780.1 3797.6V3812.6M805.2 4772.6V4757.6M805.2 3797.6V3812.6M830.4 4772.6V4757.6M830.4 3797.6V3812.6M855.5 4772.6V4757.6M855.5 3797.6V3812.6M880.6 4772.6V4742.6M880.6 3797.6V3827.6M905.8 4772.6V4757.6M905.8 3797.6V3812.6M930.9 4772.6V4757.6M930.9 3797.6V3812.6M956.0 4772.6V4757.6M956.0 3797.6V3812.6M981.2 4772.6V4757.6M981.2 3797.6V3812.6M1006.3 4772.6V4742.6M1006.3 3797.6V3827.6M1031.4 4772.6V4757.6M1031.4 3797.6V3812.6M1056.6 4772.6V4757.6M1056.6 3797.6V3812.6M1081.7 4772.6V4757.6M1081.7 3797.6V3812.6M1106.9 4772.6V4757.6M1106.9 3797.6V3812.6M1132.0 4772.6V4742.6M1132.0 3797.6V3827.6M126.5 4772.6H156.5M1132.0 4772.6H1102.0M126.5 4735.1H141.5M1132.0 4735.1H1117.0M126.5 4697.6H141.5M1132.0 4697.6H1117.0M126.5 4660.1H141.5M1132.0 4660.1H1117.0M126.5 4622.6H156.5M1132.0 4622.6H1102.0M126.5 4585.1H141.5M1132.0 4585.1H1117.0M126.5 4547.6H141.5M1132.0 4547.6H1117.0M126.5 4510.1H141.5M1132.0 4510.1H1117.0M126.5 4472.6H156.5M1132.0 4472.6H1102.0M126.5 4435.1H141.5M1132.0 4435.1H1117.0M126.5 4397.6H141.5M1132.0 4397.6H1117.0M126.5 4360.1H141.5M1132.0 4360.1H1117.0M126.5 4322.6H156.5M1132.0 4322.6H1102.0M126.5 4285.1H141.5M1132.0 4285.1H1117.0M126.5 4247.6H141.5M1132.0 4247.6H1117.0M126.5 4210.1H141.5M1132.0 4210.1H1117.0M126.5 4172.6H156.5M1132.0 4172.6H1102.0M126.5 4135.1H141.5M1132.0 4135.1H1117.0M126.5 4097.6H141.5M1132.0 4097.6H1117.0M126.5 4060.1H141.5M1132.0 4060.1H1117.0M126.5 4022.6H156.5M1132.0 4022.6H1102.0M126.5 3985.1H141.5M1132.0 3985.1H1117.0M126.5 3947.6H141.5M1132.0 3947.6H1117.0M126.5 3910.1H141.5M1132.0 3910.1H1117.0M126.5 3872.6H156.5M1132.0 3872.6H1102.0M126.5 3835.1H141.5M1132.0 3835.1H1117.0M126.5 3797.6H141.5M1132.0 3797.6H1117.0" stroke="#000" stroke-width="2" fill="none"/>
<rect x="126.5" y="3797.6" width="1005.5" height="975.0" fill="none" stroke="#000" stroke-width="2.4"/>
<rect x="126.5" y="4022.6" width="138.1" height="751.5" fill="#00ffff" fill-opacity="0.110"/>
<rect x="287.3" y="4022.6" width="24.1" height="751.5" fill="#ff0000" fill-opacity="0.155"/>
<rect x="348.9" y="4022.6" width="139.1" height="751.5" fill="#0000ff" fill-opacity="0.155"/>
<rect x="629.5" y="4022.6" width="401.7" height="751.5" fill="#009900" fill-opacity="0.150"/>
<text transform="translate(263.11 4260.79) rotate(-90) scale(0.2892 0.2946)" font-size="100" font-weight="bold" fill="#33cccc">Tracker</text>
<text transform="translate(310.31 4247.38) rotate(-90) scale(0.2828 0.2944)" font-size="100" font-weight="bold" fill="#ff0000">ECAL</text>
<text transform="translate(485.99 4249.70) rotate(-90) scale(0.2858 0.3070)" font-size="100" font-weight="bold" fill="#0000ff">HCAL</text>
<text transform="translate(652.09 4277.52) rotate(-90) scale(0.2890 0.3057)" font-size="100" font-weight="bold" fill="#009900">Muon DTs</text>
<path d="M126.5 4772.6H128.3M137.3 4772.6H139.1M139.1 4770.4H140.9M149.9 4770.4H151.6M151.6 4770.4H153.4M162.4 4770.4H164.2M164.2 4770.4H166.0M175.0 4770.4H176.8M176.8 4770.4H178.6M187.6 4770.4H189.3M189.3 4772.6H191.1M200.1 4772.6H201.9M201.9 4770.4H203.7M212.7 4770.4H214.5M214.5 4772.6H216.3M225.3 4772.6H227.1M227.1 4770.4H228.8M237.8 4770.4H239.6M239.6 4770.4H241.4M250.4 4770.4H252.2M252.2 4772.6H260.3M269.3 4772.6H277.3M277.3 4770.4H285.4M294.4 4770.4H302.5M302.5 4772.6H310.5M319.5 4772.6H327.6" stroke="#ff0000" stroke-width="3.6" fill="none"/>
<path d="M126.5 4769.3V4775.9M139.1 4769.3V4775.9M139.1 4767.1V4773.7M151.6 4767.1V4773.7M151.6 4767.1V4773.7M164.2 4767.1V4773.7M164.2 4767.1V4773.7M176.8 4767.1V4773.7M176.8 4767.1V4773.7M189.3 4767.1V4773.7M189.3 4769.3V4775.9M201.9 4769.3V4775.9M201.9 4767.1V4773.7M214.5 4767.1V4773.7M214.5 4769.3V4775.9M227.1 4769.3V4775.9M227.1 4767.1V4773.7M239.6 4767.1V4773.7M239.6 4767.1V4773.7M252.2 4767.1V4773.7M252.2 4769.3V4775.9M277.3 4769.3V4775.9M277.3 4767.1V4773.7M302.5 4767.1V4773.7M302.5 4769.3V4775.9M327.6 4769.3V4775.9" stroke="#ff0000" stroke-width="3.5" fill="none"/>
<circle cx="132.8" cy="4772.6" r="9.2" fill="#ff0000"/><circle cx="145.4" cy="4770.4" r="9.2" fill="#ff0000"/><circle cx="157.9" cy="4770.4" r="9.2" fill="#ff0000"/><circle cx="170.5" cy="4770.4" r="9.2" fill="#ff0000"/><circle cx="183.1" cy="4770.4" r="9.2" fill="#ff0000"/><circle cx="195.6" cy="4772.6" r="9.2" fill="#ff0000"/><circle cx="208.2" cy="4770.4" r="9.2" fill="#ff0000"/><circle cx="220.8" cy="4772.6" r="9.2" fill="#ff0000"/><circle cx="233.3" cy="4770.4" r="9.2" fill="#ff0000"/><circle cx="245.9" cy="4770.4" r="9.2" fill="#ff0000"/><circle cx="264.8" cy="4772.6" r="9.2" fill="#ff0000"/><circle cx="289.9" cy="4770.4" r="9.2" fill="#ff0000"/><circle cx="315.0" cy="4772.6" r="9.2" fill="#ff0000"/>
<path d="M126.5 4770.4H128.3M137.3 4770.4H139.1M139.1 4770.4H140.9M149.9 4770.4H151.6M151.6 4770.4H153.4M162.4 4770.4H164.2M164.2 4770.4H166.0M175.0 4770.4H176.8M176.8 4770.4H178.6M187.6 4770.4H189.3M189.3 4770.4H191.1M200.1 4770.4H201.9M201.9 4770.4H203.7M212.7 4770.4H214.5M214.5 4770.4H216.3M225.3 4770.4H227.1M227.1 4770.4H228.8M237.8 4770.4H239.6M239.6 4770.4H241.4M250.4 4770.4H252.2M252.2 4763.6H260.3M269.3 4763.6H277.3M277.3 4763.6H285.4M294.4 4763.6H302.5M302.5 4766.6H310.5M319.5 4766.6H327.6M327.6 4767.4H335.7M344.7 4767.4H352.7M352.7 4766.6H360.8M369.8 4766.6H377.9M377.9 4730.6H385.9M394.9 4730.6H403.0M403.0 4720.1H411.1M420.1 4720.1H428.1M428.1 4720.1H436.2M445.2 4720.1H453.3M453.3 4735.1H461.4M470.4 4735.1H478.4M478.4 4760.6H486.5M495.5 4760.6H503.6" stroke="#0000ff" stroke-width="3.6" fill="none"/>
<path d="M126.5 4767.1V4773.7M139.1 4767.1V4773.7M139.1 4767.1V4773.7M151.6 4767.1V4773.7M151.6 4767.1V4773.7M164.2 4767.1V4773.7M164.2 4767.1V4773.7M176.8 4767.1V4773.7M176.8 4767.1V4773.7M189.3 4767.1V4773.7M189.3 4767.1V4773.7M201.9 4767.1V4773.7M201.9 4767.1V4773.7M214.5 4767.1V4773.7M214.5 4767.1V4773.7M227.1 4767.1V4773.7M227.1 4767.1V4773.7M239.6 4767.1V4773.7M239.6 4767.1V4773.7M252.2 4767.1V4773.7M252.2 4760.3V4766.9M277.3 4760.3V4766.9M277.3 4760.3V4766.9M302.5 4760.3V4766.9M302.5 4763.3V4769.9M327.6 4763.3V4769.9M327.6 4764.1V4770.7M352.7 4764.1V4770.7M352.7 4763.3V4769.9M377.9 4763.3V4769.9M377.9 4727.3V4733.9M403.0 4727.3V4733.9M403.0 4716.8V4723.4M428.1 4716.8V4723.4M428.1 4716.8V4723.4M453.3 4716.8V4723.4M453.3 4731.8V4738.4M478.4 4731.8V4738.4M478.4 4757.3V4763.9M503.6 4757.3V4763.9" stroke="#0000ff" stroke-width="3.5" fill="none"/>
<rect x="123.1" y="4760.7" width="19.4" height="19.4" fill="#0000ff"/><rect x="135.7" y="4760.7" width="19.4" height="19.4" fill="#0000ff"/><rect x="148.2" y="4760.7" width="19.4" height="19.4" fill="#0000ff"/><rect x="160.8" y="4760.7" width="19.4" height="19.4" fill="#0000ff"/><rect x="173.4" y="4760.7" width="19.4" height="19.4" fill="#0000ff"/><rect x="185.9" y="4760.7" width="19.4" height="19.4" fill="#0000ff"/><rect x="198.5" y="4760.7" width="19.4" height="19.4" fill="#0000ff"/><rect x="211.1" y="4760.7" width="19.4" height="19.4" fill="#0000ff"/><rect x="223.6" y="4760.7" width="19.4" height="19.4" fill="#0000ff"/><rect x="236.2" y="4760.7" width="19.4" height="19.4" fill="#0000ff"/><rect x="255.1" y="4753.9" width="19.4" height="19.4" fill="#0000ff"/><rect x="280.2" y="4753.9" width="19.4" height="19.4" fill="#0000ff"/><rect x="305.3" y="4756.9" width="19.4" height="19.4" fill="#0000ff"/><rect x="330.5" y="4757.7" width="19.4" height="19.4" fill="#0000ff"/><rect x="355.6" y="4756.9" width="19.4" height="19.4" fill="#0000ff"/><rect x="380.7" y="4720.9" width="19.4" height="19.4" fill="#0000ff"/><rect x="405.9" y="4710.4" width="19.4" height="19.4" fill="#0000ff"/><rect x="431.0" y="4710.4" width="19.4" height="19.4" fill="#0000ff"/><rect x="456.2" y="4725.4" width="19.4" height="19.4" fill="#0000ff"/><rect x="481.3" y="4750.9" width="19.4" height="19.4" fill="#0000ff"/>
<path d="M377.9 4762.9H385.9M394.9 4762.9H403.0M403.0 4754.6H411.1M420.1 4754.6H428.1M428.1 4758.4H436.2M445.2 4758.4H453.3M453.3 4753.1H461.4M470.4 4753.1H478.4M478.4 4756.9H486.5M495.5 4756.9H503.6M503.6 4733.6H514.8M523.8 4733.6H535.0M535.0 4721.6H546.2M555.2 4721.6H566.4M566.4 4707.4H577.6M586.6 4707.4H597.8M597.8 4702.1H609.0M618.0 4702.1H629.2M629.2 4692.4H640.5M649.5 4692.4H660.7M660.7 4686.4H671.9M680.9 4686.4H692.1M692.1 4677.4H703.3M712.3 4677.4H723.5M723.5 4675.9H734.7M743.7 4675.9H754.9M754.9 4677.4H766.1M775.1 4677.4H786.4M786.4 4675.9H797.6M806.6 4675.9H817.8M817.8 4677.4H829.0M838.0 4677.4H849.2M849.2 4630.1H860.4M869.4 4630.1H880.6M864.9 4609.9V4620.8M864.9 4639.4V4650.4M880.6 4661.6H891.8M900.8 4661.6H912.0M896.3 4642.1V4652.3M896.3 4670.9V4681.1M912.0 4633.1H923.3M932.3 4633.1H943.5M927.8 4610.6V4623.8M927.8 4642.4V4655.6M943.5 4667.6H954.7M963.7 4667.6H974.9M959.2 4641.4V4658.3M959.2 4676.9V4693.9M974.9 4653.4H986.1M995.1 4653.4H1006.3M990.6 4624.9V4644.1M990.6 4662.7V4675.9M1006.3 4661.6H1017.5M1026.5 4661.6H1037.7M1022.0 4633.1V4652.3M1022.0 4670.9V4685.6M1037.7 4721.6H1048.9M1057.9 4721.6H1069.2M1053.4 4696.1V4712.3M1053.4 4730.9V4738.1M1069.2 4762.9H1080.4M1089.4 4762.9H1100.6M1084.9 4746.4V4753.6M1100.6 4754.6H1111.8M1120.8 4754.6H1132.0M1116.3 4733.6V4745.3" stroke="#009900" stroke-width="3.6" fill="none"/>
<path d="M377.9 4759.6V4766.2M403.0 4759.6V4766.2M403.0 4751.3V4757.9M428.1 4751.3V4757.9M428.1 4755.1V4761.7M453.3 4755.1V4761.7M453.3 4749.8V4756.4M478.4 4749.8V4756.4M478.4 4753.6V4760.2M503.6 4753.6V4760.2M503.6 4730.3V4736.9M535.0 4730.3V4736.9M535.0 4718.3V4724.9M566.4 4718.3V4724.9M566.4 4704.1V4710.7M597.8 4704.1V4710.7M597.8 4698.8V4705.4M629.2 4698.8V4705.4M629.2 4689.1V4695.7M660.7 4689.1V4695.7M660.7 4683.1V4689.7M692.1 4683.1V4689.7M692.1 4674.1V4680.7M723.5 4674.1V4680.7M723.5 4672.6V4679.2M754.9 4672.6V4679.2M754.9 4674.1V4680.7M786.4 4674.1V4680.7M786.4 4672.6V4679.2M817.8 4672.6V4679.2M817.8 4674.1V4680.7M849.2 4674.1V4680.7M849.2 4626.8V4633.4M880.6 4626.8V4633.4M861.6 4609.9H868.2M861.6 4650.4H868.2M880.6 4658.3V4664.9M912.0 4658.3V4664.9M893.0 4642.1H899.6M893.0 4681.1H899.6M912.0 4629.8V4636.4M943.5 4629.8V4636.4M924.5 4610.6H931.1M924.5 4655.6H931.1M943.5 4664.3V4670.9M974.9 4664.3V4670.9M955.9 4641.4H962.5M955.9 4693.9H962.5M974.9 4650.1V4656.7M1006.3 4650.1V4656.7M987.3 4624.9H993.9M987.3 4675.9H993.9M1006.3 4658.3V4664.9M1037.7 4658.3V4664.9M1018.7 4633.1H1025.3M1018.7 4685.6H1025.3M1037.7 4718.3V4724.9M1069.2 4718.3V4724.9M1050.1 4696.1H1056.7M1050.1 4738.1H1056.7M1069.2 4759.6V4766.2M1100.6 4759.6V4766.2M1081.6 4746.4H1088.2M1100.6 4751.3V4757.9M1132.0 4751.3V4757.9M1113.0 4733.6H1119.6" stroke="#009900" stroke-width="3.5" fill="none"/>
<polygon points="380.9,4772.4 399.9,4772.4 390.4,4753.4" fill="#009900"/><polygon points="406.1,4764.1 425.1,4764.1 415.6,4745.1" fill="#009900"/><polygon points="431.2,4767.9 450.2,4767.9 440.7,4748.9" fill="#009900"/><polygon points="456.4,4762.6 475.4,4762.6 465.9,4743.6" fill="#009900"/><polygon points="481.5,4766.4 500.5,4766.4 491.0,4747.4" fill="#009900"/><polygon points="509.8,4743.1 528.8,4743.1 519.3,4724.1" fill="#009900"/><polygon points="541.2,4731.1 560.2,4731.1 550.7,4712.1" fill="#009900"/><polygon points="572.6,4716.9 591.6,4716.9 582.1,4697.9" fill="#009900"/><polygon points="604.0,4711.6 623.0,4711.6 613.5,4692.6" fill="#009900"/><polygon points="635.5,4701.9 654.5,4701.9 645.0,4682.9" fill="#009900"/><polygon points="666.9,4695.9 685.9,4695.9 676.4,4676.9" fill="#009900"/><polygon points="698.3,4686.9 717.3,4686.9 707.8,4667.9" fill="#009900"/><polygon points="729.7,4685.4 748.7,4685.4 739.2,4666.4" fill="#009900"/><polygon points="761.1,4686.9 780.1,4686.9 770.6,4667.9" fill="#009900"/><polygon points="792.6,4685.4 811.6,4685.4 802.1,4666.4" fill="#009900"/><polygon points="824.0,4686.9 843.0,4686.9 833.5,4667.9" fill="#009900"/><polygon points="855.4,4639.6 874.4,4639.6 864.9,4620.6" fill="#009900"/><polygon points="886.8,4671.1 905.8,4671.1 896.3,4652.1" fill="#009900"/><polygon points="918.3,4642.6 937.3,4642.6 927.8,4623.6" fill="#009900"/><polygon points="949.7,4677.1 968.7,4677.1 959.2,4658.1" fill="#009900"/><polygon points="981.1,4662.9 1000.1,4662.9 990.6,4643.9" fill="#009900"/><polygon points="1012.5,4671.1 1031.5,4671.1 1022.0,4652.1" fill="#009900"/><polygon points="1043.9,4731.1 1062.9,4731.1 1053.4,4712.1" fill="#009900"/><polygon points="1075.4,4772.4 1094.4,4772.4 1084.9,4753.4" fill="#009900"/><polygon points="1106.8,4764.1 1125.8,4764.1 1116.3,4745.1" fill="#009900"/>
<path d="M214.5 4769.6H216.3M225.3 4769.6H227.1M220.8 4708.1V4760.3M227.1 4754.6H228.8M237.8 4754.6H239.6M233.3 4735.1V4745.3M239.6 4769.6H241.4M250.4 4769.6H252.2M252.2 4749.4H260.3M269.3 4749.4H277.3M277.3 4759.1H285.4M294.4 4759.1H302.5M302.5 4705.1H310.5M319.5 4705.1H327.6M327.6 4645.1H335.7M344.7 4645.1H352.7M340.2 4635.4V4635.8M340.2 4654.4V4654.9M352.7 4612.9H360.8M369.8 4612.9H377.9M365.3 4602.4V4603.6M365.3 4622.2V4623.4M377.9 4643.6H385.9M394.9 4643.6H403.0M390.4 4633.1V4634.3M390.4 4652.9V4654.1M403.0 4642.9H411.1M420.1 4642.9H428.1M415.6 4632.4V4633.6M415.6 4652.2V4653.4M428.1 4628.6H436.2M445.2 4628.6H453.3M440.7 4616.6V4619.3M440.7 4637.9V4640.6M453.3 4624.1H461.4M470.4 4624.1H478.4M465.9 4612.1V4614.8M465.9 4633.4V4636.1M478.4 4657.9H486.5M495.5 4657.9H503.6M491.0 4646.6V4648.6M491.0 4667.2V4669.1M503.6 4689.4H514.8M523.8 4689.4H535.0M535.0 4612.1H546.2M555.2 4612.1H566.4M550.7 4600.1V4602.8M550.7 4621.4V4624.1M566.4 4585.9H577.6M586.6 4585.9H597.8M582.1 4570.9V4576.6M582.1 4595.2V4600.9M597.8 4564.9H609.0M618.0 4564.9H629.2M613.5 4548.4V4555.6M613.5 4574.2V4581.4M629.2 4548.4H640.5M649.5 4548.4H660.7M645.0 4531.9V4539.1M645.0 4557.7V4564.9M660.7 4548.4H671.9M680.9 4548.4H692.1M676.4 4530.4V4539.1M676.4 4557.7V4566.4M692.1 4462.1H703.3M712.3 4462.1H723.5M707.8 4437.4V4452.8M707.8 4471.4V4486.9M723.5 4379.6H734.7M743.7 4379.6H754.9M739.2 4349.6V4370.3M739.2 4388.9V4409.6M754.9 4349.6H766.1M775.1 4349.6H786.4M770.6 4319.6V4340.3M770.6 4358.9V4379.6M786.4 4330.1H797.6M806.6 4330.1H817.8M802.1 4298.6V4320.8M802.1 4339.4V4361.6M817.8 4363.9H829.0M838.0 4363.9H849.2M833.5 4326.4V4354.6M833.5 4373.2V4401.4M849.2 4392.4H860.4M869.4 4392.4H880.6M864.9 4353.4V4383.1M864.9 4401.7V4431.4M880.6 4490.6H891.8M900.8 4490.6H912.0M896.3 4450.9V4481.3M896.3 4499.9V4530.4M912.0 4615.9H923.3M932.3 4615.9H943.5M927.8 4576.1V4606.6M927.8 4625.2V4655.6M943.5 4729.1H954.7M963.7 4729.1H974.9M959.2 4693.9V4719.8M959.2 4738.4V4750.1M974.9 4750.9H986.1M995.1 4750.9H1006.3M990.6 4710.4V4741.6M990.6 4760.2V4768.9" stroke="#ff00ff" stroke-width="3.6" fill="none"/>
<path d="M214.5 4766.3V4772.9M227.1 4766.3V4772.9M217.5 4708.1H224.1M227.1 4751.3V4757.9M239.6 4751.3V4757.9M230.0 4735.1H236.6M239.6 4766.3V4772.9M252.2 4766.3V4772.9M252.2 4746.1V4752.7M277.3 4746.1V4752.7M277.3 4755.8V4762.4M302.5 4755.8V4762.4M302.5 4701.8V4708.4M327.6 4701.8V4708.4M327.6 4641.8V4648.4M352.7 4641.8V4648.4M336.9 4635.4H343.5M336.9 4654.9H343.5M352.7 4609.6V4616.2M377.9 4609.6V4616.2M362.0 4602.4H368.6M362.0 4623.4H368.6M377.9 4640.3V4646.9M403.0 4640.3V4646.9M387.1 4633.1H393.7M387.1 4654.1H393.7M403.0 4639.6V4646.2M428.1 4639.6V4646.2M412.3 4632.4H418.9M412.3 4653.4H418.9M428.1 4625.3V4631.9M453.3 4625.3V4631.9M437.4 4616.6H444.0M437.4 4640.6H444.0M453.3 4620.8V4627.4M478.4 4620.8V4627.4M462.6 4612.1H469.2M462.6 4636.1H469.2M478.4 4654.6V4661.2M503.6 4654.6V4661.2M487.7 4646.6H494.3M487.7 4669.1H494.3M503.6 4686.1V4692.7M535.0 4686.1V4692.7M535.0 4608.8V4615.4M566.4 4608.8V4615.4M547.4 4600.1H554.0M547.4 4624.1H554.0M566.4 4582.6V4589.2M597.8 4582.6V4589.2M578.8 4570.9H585.4M578.8 4600.9H585.4M597.8 4561.6V4568.2M629.2 4561.6V4568.2M610.2 4548.4H616.8M610.2 4581.4H616.8M629.2 4545.1V4551.7M660.7 4545.1V4551.7M641.7 4531.9H648.3M641.7 4564.9H648.3M660.7 4545.1V4551.7M692.1 4545.1V4551.7M673.1 4530.4H679.7M673.1 4566.4H679.7M692.1 4458.8V4465.4M723.5 4458.8V4465.4M704.5 4437.4H711.1M704.5 4486.9H711.1M723.5 4376.3V4382.9M754.9 4376.3V4382.9M735.9 4349.6H742.5M735.9 4409.6H742.5M754.9 4346.3V4352.9M786.4 4346.3V4352.9M767.3 4319.6H773.9M767.3 4379.6H773.9M786.4 4326.8V4333.4M817.8 4326.8V4333.4M798.8 4298.6H805.4M798.8 4361.6H805.4M817.8 4360.6V4367.2M849.2 4360.6V4367.2M830.2 4326.4H836.8M830.2 4401.4H836.8M849.2 4389.1V4395.7M880.6 4389.1V4395.7M861.6 4353.4H868.2M861.6 4431.4H868.2M880.6 4487.3V4493.9M912.0 4487.3V4493.9M893.0 4450.9H899.6M893.0 4530.4H899.6M912.0 4612.6V4619.2M943.5 4612.6V4619.2M924.5 4576.1H931.1M924.5 4655.6H931.1M943.5 4725.8V4732.4M974.9 4725.8V4732.4M955.9 4693.9H962.5M955.9 4750.1H962.5M974.9 4747.6V4754.2M1006.3 4747.6V4754.2M987.3 4710.4H993.9M987.3 4768.9H993.9" stroke="#ff00ff" stroke-width="3.5" fill="none"/>
<polygon points="211.3,4760.1 230.3,4760.1 220.8,4779.1" fill="#ff00ff"/><polygon points="223.8,4745.1 242.8,4745.1 233.3,4764.1" fill="#ff00ff"/><polygon points="236.4,4760.1 255.4,4760.1 245.9,4779.1" fill="#ff00ff"/><polygon points="255.3,4739.9 274.3,4739.9 264.8,4758.9" fill="#ff00ff"/><polygon points="280.4,4749.6 299.4,4749.6 289.9,4768.6" fill="#ff00ff"/><polygon points="305.5,4695.6 324.5,4695.6 315.0,4714.6" fill="#ff00ff"/><polygon points="330.7,4635.6 349.7,4635.6 340.2,4654.6" fill="#ff00ff"/><polygon points="355.8,4603.4 374.8,4603.4 365.3,4622.4" fill="#ff00ff"/><polygon points="380.9,4634.1 399.9,4634.1 390.4,4653.1" fill="#ff00ff"/><polygon points="406.1,4633.4 425.1,4633.4 415.6,4652.4" fill="#ff00ff"/><polygon points="431.2,4619.1 450.2,4619.1 440.7,4638.1" fill="#ff00ff"/><polygon points="456.4,4614.6 475.4,4614.6 465.9,4633.6" fill="#ff00ff"/><polygon points="481.5,4648.4 500.5,4648.4 491.0,4667.4" fill="#ff00ff"/><polygon points="509.8,4679.9 528.8,4679.9 519.3,4698.9" fill="#ff00ff"/><polygon points="541.2,4602.6 560.2,4602.6 550.7,4621.6" fill="#ff00ff"/><polygon points="572.6,4576.4 591.6,4576.4 582.1,4595.4" fill="#ff00ff"/><polygon points="604.0,4555.4 623.0,4555.4 613.5,4574.4" fill="#ff00ff"/><polygon points="635.5,4538.9 654.5,4538.9 645.0,4557.9" fill="#ff00ff"/><polygon points="666.9,4538.9 685.9,4538.9 676.4,4557.9" fill="#ff00ff"/><polygon points="698.3,4452.6 717.3,4452.6 707.8,4471.6" fill="#ff00ff"/><polygon points="729.7,4370.1 748.7,4370.1 739.2,4389.1" fill="#ff00ff"/><polygon points="761.1,4340.1 780.1,4340.1 770.6,4359.1" fill="#ff00ff"/><polygon points="792.6,4320.6 811.6,4320.6 802.1,4339.6" fill="#ff00ff"/><polygon points="824.0,4354.4 843.0,4354.4 833.5,4373.4" fill="#ff00ff"/><polygon points="855.4,4382.9 874.4,4382.9 864.9,4401.9" fill="#ff00ff"/><polygon points="886.8,4481.1 905.8,4481.1 896.3,4500.1" fill="#ff00ff"/><polygon points="918.3,4606.4 937.3,4606.4 927.8,4625.4" fill="#ff00ff"/><polygon points="949.7,4719.6 968.7,4719.6 959.2,4738.6" fill="#ff00ff"/><polygon points="981.1,4741.4 1000.1,4741.4 990.6,4760.4" fill="#ff00ff"/>
<path d="M126.5 4768.9H128.3M137.3 4768.9H139.1M139.1 4750.1H140.9M149.9 4750.1H151.6M151.6 4771.1H153.4M162.4 4771.1H164.2M164.2 4745.6H166.0M175.0 4745.6H176.8M176.8 4742.6H178.6M187.6 4742.6H189.3M189.3 4741.1H191.1M200.1 4741.1H201.9M201.9 4738.9H203.7M212.7 4738.9H214.5M214.5 4747.9H216.3M225.3 4747.9H227.1M227.1 4760.6H228.8M237.8 4760.6H239.6M239.6 4665.4H241.4M250.4 4665.4H252.2M252.2 4636.1H260.3M269.3 4636.1H277.3M264.8 4626.4V4626.8M264.8 4645.4V4645.9M277.3 4729.1H285.4M294.4 4729.1H302.5M289.9 4719.4V4719.8M289.9 4738.4V4738.9M302.5 4757.6H310.5M319.5 4757.6H327.6M315.0 4742.6V4748.3M315.0 4766.9V4772.6M315.0 4526.6H342.0M351.0 4526.6H377.9M346.5 4504.1V4517.3M346.5 4535.9V4549.1M377.9 4555.1H436.2M445.2 4555.1H503.6M440.7 4525.1V4545.8M440.7 4564.4V4585.1" stroke="#33cccc" stroke-width="3.6" fill="none"/>
<path d="M126.5 4765.6V4772.2M139.1 4765.6V4772.2M139.1 4746.8V4753.4M151.6 4746.8V4753.4M151.6 4767.8V4774.4M164.2 4767.8V4774.4M164.2 4742.3V4748.9M176.8 4742.3V4748.9M176.8 4739.3V4745.9M189.3 4739.3V4745.9M189.3 4737.8V4744.4M201.9 4737.8V4744.4M201.9 4735.6V4742.2M214.5 4735.6V4742.2M214.5 4744.6V4751.2M227.1 4744.6V4751.2M227.1 4757.3V4763.9M239.6 4757.3V4763.9M239.6 4662.1V4668.7M252.2 4662.1V4668.7M252.2 4632.8V4639.4M277.3 4632.8V4639.4M261.5 4626.4H268.1M261.5 4645.9H268.1M277.3 4725.8V4732.4M302.5 4725.8V4732.4M286.6 4719.4H293.2M286.6 4738.9H293.2M302.5 4754.3V4760.9M327.6 4754.3V4760.9M311.7 4742.6H318.3M311.7 4772.6H318.3M315.0 4523.3V4529.9M377.9 4523.3V4529.9M343.2 4504.1H349.8M343.2 4549.1H349.8M377.9 4551.8V4558.4M503.6 4551.8V4558.4M437.4 4525.1H444.0M437.4 4585.1H444.0" stroke="#33cccc" stroke-width="3.5" fill="none"/>
<polygon points="123.2,4768.9 132.8,4754.7 142.4,4768.9 132.8,4783.1" fill="#33cccc"/><polygon points="135.8,4750.1 145.4,4735.9 155.0,4750.1 145.4,4764.3" fill="#33cccc"/><polygon points="148.3,4771.1 157.9,4756.9 167.5,4771.1 157.9,4785.3" fill="#33cccc"/><polygon points="160.9,4745.6 170.5,4731.4 180.1,4745.6 170.5,4759.8" fill="#33cccc"/><polygon points="173.5,4742.6 183.1,4728.4 192.7,4742.6 183.1,4756.8" fill="#33cccc"/><polygon points="186.0,4741.1 195.6,4726.9 205.2,4741.1 195.6,4755.3" fill="#33cccc"/><polygon points="198.6,4738.9 208.2,4724.7 217.8,4738.9 208.2,4753.1" fill="#33cccc"/><polygon points="211.2,4747.9 220.8,4733.7 230.4,4747.9 220.8,4762.1" fill="#33cccc"/><polygon points="223.7,4760.6 233.3,4746.4 242.9,4760.6 233.3,4774.8" fill="#33cccc"/><polygon points="236.3,4665.4 245.9,4651.2 255.5,4665.4 245.9,4679.6" fill="#33cccc"/><polygon points="255.2,4636.1 264.8,4621.9 274.4,4636.1 264.8,4650.3" fill="#33cccc"/><polygon points="280.3,4729.1 289.9,4714.9 299.5,4729.1 289.9,4743.3" fill="#33cccc"/><polygon points="305.4,4757.6 315.0,4743.4 324.6,4757.6 315.0,4771.8" fill="#33cccc"/><polygon points="336.9,4526.6 346.5,4512.4 356.1,4526.6 346.5,4540.8" fill="#33cccc"/><polygon points="431.1,4555.1 440.7,4540.9 450.3,4555.1 440.7,4569.3" fill="#33cccc"/>
<line x1="226.9" y1="4022.6" x2="226.9" y2="4772.6" stroke="#000" stroke-width="2.2" stroke-dasharray="11 11.18" stroke-dashoffset="-7.50"/>
<line x1="1006.5" y1="4022.6" x2="1006.5" y2="4772.6" stroke="#000" stroke-width="2.2" stroke-dasharray="11 11.18" stroke-dashoffset="-7.50"/>
<g stroke="#ff00ff" stroke-width="2.2" fill="none">
<line x1="226.0" y1="4052.6" x2="1007.5" y2="4052.6"/>
<polyline points="236.0,4047.3 226.0,4052.6 236.0,4057.9"/>
<polyline points="997.5,4047.3 1007.5,4052.6 997.5,4057.9"/>
</g>
<text transform="translate(586.61 4050.76) scale(0.2236 0.2394)" font-size="100" font-weight="bold" fill="#ff00ff">CSCs</text>
<text transform="translate(98.36 4785.69) scale(0.3969 0.4085)" font-size="100">0</text>
<text transform="translate(65.81 4635.69) scale(0.3969 0.4085)" font-size="100">0.2</text>
<text transform="translate(65.02 4485.69) scale(0.3969 0.4085)" font-size="100">0.4</text>
<text transform="translate(65.41 4335.69) scale(0.3969 0.4085)" font-size="100">0.6</text>
<text transform="translate(65.41 4185.69) scale(0.3969 0.4085)" font-size="100">0.8</text>
<text transform="translate(98.76 4037.49) scale(0.3969 0.4085)" font-size="100">1</text>
<text transform="translate(65.81 3887.49) scale(0.3969 0.4085)" font-size="100">1.2</text>
<text transform="translate(114.52 4812.39) scale(0.3938 0.4056)" font-size="100">0</text>
<text transform="translate(219.15 4812.39) scale(0.3942 0.4056)" font-size="100">100</text>
<text transform="translate(342.69 4812.39) scale(0.4025 0.4056)" font-size="100">200</text>
<text transform="translate(468.90 4812.39) scale(0.4006 0.4056)" font-size="100">300</text>
<text transform="translate(596.50 4812.39) scale(0.3994 0.4056)" font-size="100">400</text>
<text transform="translate(720.10 4812.39) scale(0.4006 0.4056)" font-size="100">500</text>
<text transform="translate(846.69 4812.39) scale(0.4019 0.4056)" font-size="100">600</text>
<text transform="translate(970.70 4812.39) scale(0.4006 0.4056)" font-size="100">700</text>
<text transform="translate(1098.32 4812.39) scale(0.3956 0.4056)" font-size="100">800</text>
<text transform="translate(821.53 4852.50) scale(0.3962 0.4145)" font-size="100">LLP decay R [cm]</text>
<text transform="translate(38.40 4174.18) rotate(-90) scale(0.3977 0.4145)" font-size="100">L1T+HLT acceptance</text>
<text transform="translate(138.46 3784.91) scale(0.4603 0.4915)" font-size="100" font-weight="bold">CMS</text>
<text transform="translate(253.61 3784.76) scale(0.4294 0.4378)" font-size="100" font-style="italic">Simulation</text>
<text transform="translate(934.87 3784.52) scale(0.4058 0.3989)" font-size="100">(13.6 TeV)</text>
<path d="M181.5 3841.2H262.0" stroke="#33cccc" stroke-width="3.6"/>
<path d="M221.5 3829.5V3831.9M221.5 3850.5V3852.9" stroke="#33cccc" stroke-width="3.6"/>
<path d="M213.5 3829.5H229.5M213.5 3852.9H229.5" stroke="#33cccc" stroke-width="3.6"/>
<polygon points="211.9,3841.2 221.5,3827.0 231.1,3841.2 221.5,3855.4" fill="#33cccc"/>
<text transform="translate(278.75 3849.50) scale(0.2694 0.2870)" font-size="100">Displaced-jet using tracker (cτ = 0.1m)</text>
<path d="M181.5 3880.3H262.0" stroke="#ff0000" stroke-width="3.6"/>
<path d="M221.5 3868.6V3871.0M221.5 3889.6V3892.0" stroke="#ff0000" stroke-width="3.6"/>
<path d="M213.5 3868.6H229.5M213.5 3892.0H229.5" stroke="#ff0000" stroke-width="3.6"/>
<circle cx="221.5" cy="3880.3" r="9.2" fill="#ff0000"/>
<text transform="translate(278.74 3888.60) scale(0.2698 0.2870)" font-size="100">Delayed-jet using ECAL timing (cτ = 1m)</text>
<path d="M181.5 3919.4H262.0" stroke="#0000ff" stroke-width="3.6"/>
<path d="M221.5 3907.7V3910.1M221.5 3928.7V3931.1" stroke="#0000ff" stroke-width="3.6"/>
<path d="M213.5 3907.7H229.5M213.5 3931.1H229.5" stroke="#0000ff" stroke-width="3.6"/>
<rect x="211.8" y="3909.7" width="19.4" height="19.4" fill="#0000ff"/>
<text transform="translate(278.74 3927.70) scale(0.2703 0.2870)" font-size="100">Displaced-jet using HCAL (cτ = 1m)</text>
<path d="M181.5 3958.5H262.0" stroke="#009900" stroke-width="3.6"/>
<path d="M221.5 3946.8V3949.2M221.5 3967.8V3970.2" stroke="#009900" stroke-width="3.6"/>
<path d="M213.5 3946.8H229.5M213.5 3970.2H229.5" stroke="#009900" stroke-width="3.6"/>
<polygon points="212.0,3968.0 231.0,3968.0 221.5,3949.0" fill="#009900"/>
<text transform="translate(278.73 3966.80) scale(0.2707 0.2870)" font-size="100">Muon Detector Showers with DTs (cτ = 1m)</text>
<path d="M181.5 3997.6H262.0" stroke="#ff00ff" stroke-width="3.6"/>
<path d="M221.5 3985.9V3988.3M221.5 4006.9V4009.3" stroke="#ff00ff" stroke-width="3.6"/>
<path d="M213.5 3985.9H229.5M213.5 4009.3H229.5" stroke="#ff00ff" stroke-width="3.6"/>
<polygon points="212.0,3988.1 231.0,3988.1 221.5,4007.1" fill="#ff00ff"/>
<text transform="translate(278.75 4005.90) scale(0.2691 0.2870)" font-size="100">Muon Detector Showers with CSCs (cτ = 1m)</text>
<text transform="translate(866.10 3874.80) scale(0.2875 0.3043)" font-size="100">H</text>
<text transform="translate(895.14 3883.37) scale(0.2822 0.4667)" font-size="100" style="font-family:NanumGothic">→</text>
<text transform="translate(930.44 3874.90) scale(0.2852 0.3029)" font-size="100">XX</text>
<text transform="translate(979.14 3883.43) scale(0.2800 0.4700)" font-size="100" style="font-family:NanumGothic">→</text>
<text transform="translate(1014.63 3874.90) scale(0.2848 0.2932)" font-size="100">4b</text>
<text transform="translate(866.35 3926.11) scale(0.2787 0.2888)" font-size="100">m<tspan font-size="68" dy="27.5">H</tspan><tspan dy="-27.5"> = 125 GeV</tspan></text>
<text transform="translate(866.25 3975.61) scale(0.2787 0.2888)" font-size="100">m<tspan font-size="68" dy="27.5">X</tspan><tspan dy="-27.5"> = 25 GeV</tspan></text>
</g>
</svg></body></html>
